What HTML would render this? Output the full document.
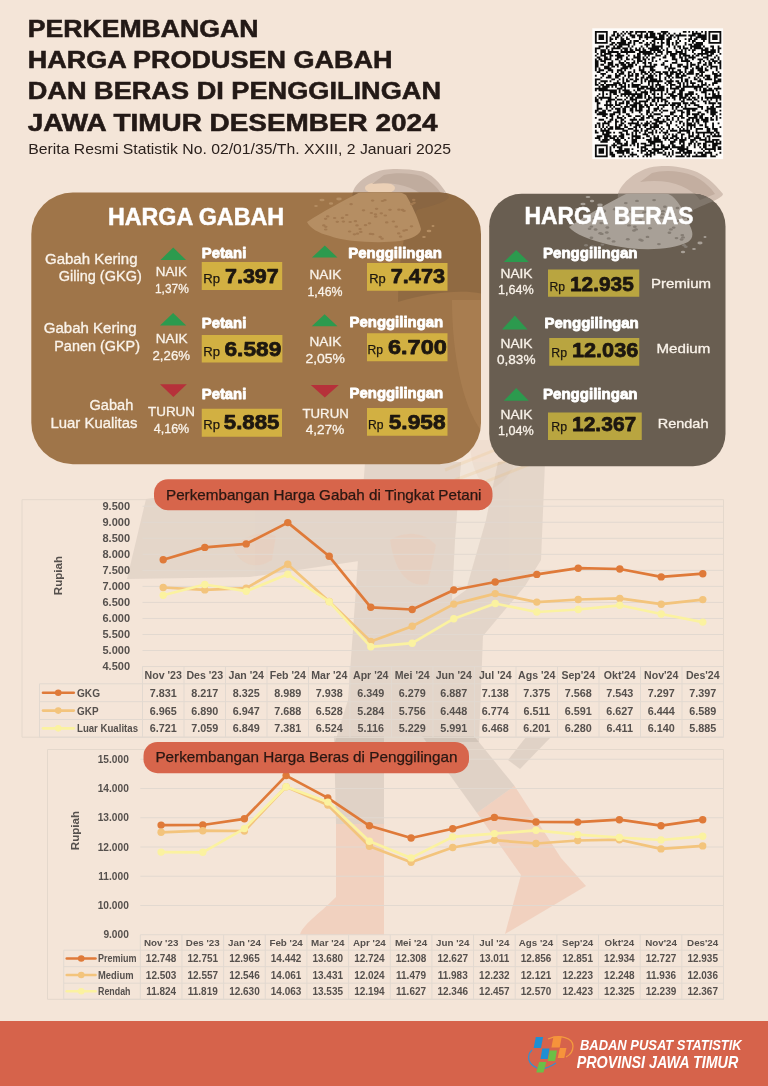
<!DOCTYPE html>
<html lang="id">
<head>
<meta charset="utf-8">
<title>Perkembangan Harga Produsen Gabah dan Beras di Penggilingan Jawa Timur Desember 2024</title>
<style>
html,body{margin:0;padding:0;background:#F4E5D8;}
body{width:768px;height:1086px;overflow:hidden;}
svg{display:block;font-family:"Liberation Sans",sans-serif;will-change:transform;}
svg text{white-space:pre;}
</style>
</head>
<body>
<svg width="768" height="1086" viewBox="0 0 768 1086">
<rect x="0" y="0" width="768" height="1086" fill="#F4E5D8"/>
<g opacity="0.15" fill="#8A7F77">
<polygon points="146,499 215,490 300,502 366,478 366,560 250,577 127,579"/>
<polygon points="365,462 545,462 541,560 525,586 483,636 479,742 335,742 348,700"/>
</g>
<g opacity="0.18" fill="#8A7F77">
<polygon points="334,736 384,736 384,824 336,824"/>
<polygon points="422,736 474,736 514.6,786 477,813"/>
<polygon points="526,737 551,737 520,769 508,760"/>
</g>
<g opacity="0.75" fill="#F6E9DD">
<polygon points="461,462 498,462 486,520 466,590 452,600 455,540"/>
</g>
<g opacity="0.40" fill="#EDB49C">
<path d="M336,824 H384 V935 H300 C302,925 318,915 336,897 Z"/>
<polygon points="477,813 514.6,786 561,858 586,886 505,934 521,875"/>
</g>
<g opacity="0.22" fill="#F1C3A8">
<path d="M233,548 C245,535 262,530 276,536 L272,560 C258,570 240,566 233,548 Z"/>
<path d="M390,540 C405,530 425,532 436,545 L428,584 C410,588 395,575 390,540 Z"/>
</g>
<g opacity="0.10" fill="#CDA78C">
<path d="M470,440 H520 C520,460 510,480 490,490 C475,480 470,460 470,440 Z"/>
</g>
<g opacity="0.16" stroke="#EFB35E" stroke-width="3" fill="none">
<path d="M445,470 L520,440 M455,480 L540,448 M470,488 L560,452"/>
</g>
<path d="M376,172 C383,168.5 402,167.5 423,171.5 C436,176 443,188 449,197 C446,203 430,206 417,210 L414,216 C400,200 380,192 353,198 C350,190 360,178 376,172 Z" fill="#CFBCAF"/>
<ellipse cx="380" cy="188" rx="15" ry="6" fill="#EBD0B6"/>
<path d="M645,169 C655,165 677,164 697,172 C710,178 718,188 723,194 C722,199 705,204 691,211 L688,216 C672,200 650,194 618,198 C616,190 628,176 645,169 Z" fill="#D3C0B3"/>
<path d="M652,173 C662,170 680,170 694,176 C704,181 711,188 715,194 L700,200 C690,186 668,178 640,182 Z" fill="#C3AEA0"/>
<path d="M384,175 C394,172.5 410,172.5 421,176 C431,181 438,188 442,195 L428,201 C418,188 398,181 372,184 Z" fill="#C0AC9E"/>
<text x="27.70" y="37.30" font-size="23.6" font-weight="700" fill="#231916" textLength="230.80" lengthAdjust="spacingAndGlyphs" stroke="#231916" stroke-width="0.55">PERKEMBANGAN</text>
<text x="27.70" y="68.30" font-size="23.6" font-weight="700" fill="#231916" textLength="364.80" lengthAdjust="spacingAndGlyphs" stroke="#231916" stroke-width="0.55">HARGA PRODUSEN GABAH</text>
<text x="27.70" y="99.30" font-size="23.6" font-weight="700" fill="#231916" textLength="413.30" lengthAdjust="spacingAndGlyphs" stroke="#231916" stroke-width="0.55">DAN BERAS DI PENGGILINGAN</text>
<text x="27.70" y="130.70" font-size="23.6" font-weight="700" fill="#231916" textLength="409.80" lengthAdjust="spacingAndGlyphs" stroke="#231916" stroke-width="0.55">JAWA TIMUR DESEMBER 2024</text>
<text x="28.30" y="154.00" font-size="13.9" font-weight="400" fill="#2b211d" textLength="422.70" lengthAdjust="spacingAndGlyphs">Berita Resmi Statistik No. 02/01/35/Th. XXIII, 2 Januari 2025</text>
<rect x="592.3" y="28.299999999999997" width="130.8" height="130.8" fill="#FEFCFA"/>
<path fill="#0B0B0B" d="M594.90 30.90h12.82v1.83h-12.82zM613.22 30.90h3.66v1.83h-3.66zM622.38 30.90h1.83v1.83h-1.83zM626.04 30.90h1.83v1.83h-1.83zM629.71 30.90h3.66v1.83h-3.66zM635.20 30.90h10.99v1.83h-10.99zM648.02 30.90h5.50v1.83h-5.50zM660.85 30.90h7.33v1.83h-7.33zM682.83 30.90h3.66v1.83h-3.66zM688.33 30.90h1.83v1.83h-1.83zM691.99 30.90h1.83v1.83h-1.83zM695.65 30.90h1.83v1.83h-1.83zM701.15 30.90h1.83v1.83h-1.83zM704.81 30.90h1.83v1.83h-1.83zM708.48 30.90h12.82v1.83h-12.82zM594.90 32.73h1.83v1.83h-1.83zM605.89 32.73h1.83v1.83h-1.83zM613.22 32.73h1.83v1.83h-1.83zM616.88 32.73h1.83v1.83h-1.83zM620.55 32.73h1.83v1.83h-1.83zM624.21 32.73h1.83v1.83h-1.83zM627.87 32.73h3.66v1.83h-3.66zM635.20 32.73h1.83v1.83h-1.83zM640.70 32.73h1.83v1.83h-1.83zM646.19 32.73h1.83v1.83h-1.83zM649.86 32.73h5.50v1.83h-5.50zM657.18 32.73h3.66v1.83h-3.66zM662.68 32.73h3.66v1.83h-3.66zM668.18 32.73h1.83v1.83h-1.83zM673.67 32.73h1.83v1.83h-1.83zM679.17 32.73h1.83v1.83h-1.83zM691.99 32.73h9.16v1.83h-9.16zM704.81 32.73h1.83v1.83h-1.83zM708.48 32.73h1.83v1.83h-1.83zM719.47 32.73h1.83v1.83h-1.83zM594.90 34.56h1.83v1.83h-1.83zM598.56 34.56h5.50v1.83h-5.50zM605.89 34.56h1.83v1.83h-1.83zM611.39 34.56h3.66v1.83h-3.66zM616.88 34.56h3.66v1.83h-3.66zM622.38 34.56h1.83v1.83h-1.83zM629.71 34.56h5.50v1.83h-5.50zM637.03 34.56h5.50v1.83h-5.50zM644.36 34.56h3.66v1.83h-3.66zM649.86 34.56h5.50v1.83h-5.50zM659.02 34.56h5.50v1.83h-5.50zM666.34 34.56h1.83v1.83h-1.83zM670.01 34.56h3.66v1.83h-3.66zM675.50 34.56h10.99v1.83h-10.99zM688.33 34.56h7.33v1.83h-7.33zM697.49 34.56h9.16v1.83h-9.16zM708.48 34.56h1.83v1.83h-1.83zM712.14 34.56h5.50v1.83h-5.50zM719.47 34.56h1.83v1.83h-1.83zM594.90 36.40h1.83v1.83h-1.83zM598.56 36.40h5.50v1.83h-5.50zM605.89 36.40h1.83v1.83h-1.83zM609.56 36.40h1.83v1.83h-1.83zM615.05 36.40h3.66v1.83h-3.66zM620.55 36.40h1.83v1.83h-1.83zM626.04 36.40h1.83v1.83h-1.83zM631.54 36.40h3.66v1.83h-3.66zM638.87 36.40h3.66v1.83h-3.66zM644.36 36.40h12.82v1.83h-12.82zM659.02 36.40h5.50v1.83h-5.50zM668.18 36.40h3.66v1.83h-3.66zM673.67 36.40h1.83v1.83h-1.83zM677.33 36.40h1.83v1.83h-1.83zM690.16 36.40h1.83v1.83h-1.83zM695.65 36.40h10.99v1.83h-10.99zM708.48 36.40h1.83v1.83h-1.83zM712.14 36.40h5.50v1.83h-5.50zM719.47 36.40h1.83v1.83h-1.83zM594.90 38.23h1.83v1.83h-1.83zM598.56 38.23h5.50v1.83h-5.50zM605.89 38.23h1.83v1.83h-1.83zM609.56 38.23h3.66v1.83h-3.66zM615.05 38.23h1.83v1.83h-1.83zM620.55 38.23h3.66v1.83h-3.66zM626.04 38.23h3.66v1.83h-3.66zM638.87 38.23h1.83v1.83h-1.83zM646.19 38.23h1.83v1.83h-1.83zM653.52 38.23h10.99v1.83h-10.99zM666.34 38.23h5.50v1.83h-5.50zM677.33 38.23h1.83v1.83h-1.83zM684.66 38.23h1.83v1.83h-1.83zM688.33 38.23h3.66v1.83h-3.66zM693.82 38.23h3.66v1.83h-3.66zM701.15 38.23h5.50v1.83h-5.50zM708.48 38.23h1.83v1.83h-1.83zM712.14 38.23h5.50v1.83h-5.50zM719.47 38.23h1.83v1.83h-1.83zM594.90 40.06h1.83v1.83h-1.83zM605.89 40.06h1.83v1.83h-1.83zM609.56 40.06h1.83v1.83h-1.83zM620.55 40.06h5.50v1.83h-5.50zM629.71 40.06h1.83v1.83h-1.83zM633.37 40.06h5.50v1.83h-5.50zM642.53 40.06h1.83v1.83h-1.83zM651.69 40.06h3.66v1.83h-3.66zM660.85 40.06h1.83v1.83h-1.83zM666.34 40.06h3.66v1.83h-3.66zM675.50 40.06h1.83v1.83h-1.83zM679.17 40.06h1.83v1.83h-1.83zM688.33 40.06h1.83v1.83h-1.83zM691.99 40.06h3.66v1.83h-3.66zM702.98 40.06h1.83v1.83h-1.83zM708.48 40.06h1.83v1.83h-1.83zM719.47 40.06h1.83v1.83h-1.83zM594.90 41.89h12.82v1.83h-12.82zM611.39 41.89h3.66v1.83h-3.66zM616.88 41.89h9.16v1.83h-9.16zM627.87 41.89h3.66v1.83h-3.66zM633.37 41.89h1.83v1.83h-1.83zM638.87 41.89h3.66v1.83h-3.66zM646.19 41.89h1.83v1.83h-1.83zM649.86 41.89h1.83v1.83h-1.83zM653.52 41.89h1.83v1.83h-1.83zM657.18 41.89h1.83v1.83h-1.83zM660.85 41.89h3.66v1.83h-3.66zM666.34 41.89h3.66v1.83h-3.66zM671.84 41.89h1.83v1.83h-1.83zM675.50 41.89h3.66v1.83h-3.66zM684.66 41.89h1.83v1.83h-1.83zM691.99 41.89h1.83v1.83h-1.83zM695.65 41.89h7.33v1.83h-7.33zM708.48 41.89h12.82v1.83h-12.82zM609.56 43.72h3.66v1.83h-3.66zM615.05 43.72h1.83v1.83h-1.83zM618.71 43.72h10.99v1.83h-10.99zM633.37 43.72h1.83v1.83h-1.83zM644.36 43.72h5.50v1.83h-5.50zM651.69 43.72h3.66v1.83h-3.66zM660.85 43.72h1.83v1.83h-1.83zM666.34 43.72h3.66v1.83h-3.66zM671.84 43.72h1.83v1.83h-1.83zM675.50 43.72h1.83v1.83h-1.83zM684.66 43.72h1.83v1.83h-1.83zM688.33 43.72h3.66v1.83h-3.66zM693.82 43.72h9.16v1.83h-9.16zM598.56 45.56h5.50v1.83h-5.50zM605.89 45.56h3.66v1.83h-3.66zM613.22 45.56h1.83v1.83h-1.83zM616.88 45.56h5.50v1.83h-5.50zM627.87 45.56h1.83v1.83h-1.83zM631.54 45.56h1.83v1.83h-1.83zM640.70 45.56h1.83v1.83h-1.83zM646.19 45.56h1.83v1.83h-1.83zM651.69 45.56h10.99v1.83h-10.99zM668.18 45.56h1.83v1.83h-1.83zM673.67 45.56h1.83v1.83h-1.83zM677.33 45.56h3.66v1.83h-3.66zM682.83 45.56h1.83v1.83h-1.83zM690.16 45.56h10.99v1.83h-10.99zM702.98 45.56h1.83v1.83h-1.83zM710.31 45.56h3.66v1.83h-3.66zM717.64 45.56h1.83v1.83h-1.83zM594.90 47.39h5.50v1.83h-5.50zM605.89 47.39h1.83v1.83h-1.83zM611.39 47.39h9.16v1.83h-9.16zM622.38 47.39h5.50v1.83h-5.50zM629.71 47.39h1.83v1.83h-1.83zM635.20 47.39h1.83v1.83h-1.83zM638.87 47.39h1.83v1.83h-1.83zM642.53 47.39h1.83v1.83h-1.83zM648.02 47.39h10.99v1.83h-10.99zM660.85 47.39h1.83v1.83h-1.83zM666.34 47.39h1.83v1.83h-1.83zM673.67 47.39h1.83v1.83h-1.83zM679.17 47.39h1.83v1.83h-1.83zM682.83 47.39h5.50v1.83h-5.50zM690.16 47.39h1.83v1.83h-1.83zM693.82 47.39h9.16v1.83h-9.16zM704.81 47.39h3.66v1.83h-3.66zM712.14 47.39h1.83v1.83h-1.83zM717.64 47.39h3.66v1.83h-3.66zM594.90 49.22h1.83v1.83h-1.83zM600.40 49.22h5.50v1.83h-5.50zM607.72 49.22h1.83v1.83h-1.83zM611.39 49.22h1.83v1.83h-1.83zM620.55 49.22h1.83v1.83h-1.83zM624.21 49.22h3.66v1.83h-3.66zM629.71 49.22h3.66v1.83h-3.66zM635.20 49.22h5.50v1.83h-5.50zM642.53 49.22h3.66v1.83h-3.66zM649.86 49.22h10.99v1.83h-10.99zM662.68 49.22h1.83v1.83h-1.83zM666.34 49.22h1.83v1.83h-1.83zM675.50 49.22h1.83v1.83h-1.83zM681.00 49.22h1.83v1.83h-1.83zM684.66 49.22h1.83v1.83h-1.83zM688.33 49.22h1.83v1.83h-1.83zM691.99 49.22h3.66v1.83h-3.66zM701.15 49.22h7.33v1.83h-7.33zM710.31 49.22h5.50v1.83h-5.50zM717.64 49.22h1.83v1.83h-1.83zM594.90 51.05h1.83v1.83h-1.83zM600.40 51.05h5.50v1.83h-5.50zM607.72 51.05h10.99v1.83h-10.99zM620.55 51.05h14.66v1.83h-14.66zM638.87 51.05h12.82v1.83h-12.82zM653.52 51.05h1.83v1.83h-1.83zM657.18 51.05h5.50v1.83h-5.50zM666.34 51.05h5.50v1.83h-5.50zM675.50 51.05h7.33v1.83h-7.33zM684.66 51.05h1.83v1.83h-1.83zM691.99 51.05h1.83v1.83h-1.83zM701.15 51.05h1.83v1.83h-1.83zM704.81 51.05h10.99v1.83h-10.99zM717.64 51.05h1.83v1.83h-1.83zM596.73 52.88h1.83v1.83h-1.83zM600.40 52.88h1.83v1.83h-1.83zM604.06 52.88h7.33v1.83h-7.33zM616.88 52.88h3.66v1.83h-3.66zM626.04 52.88h1.83v1.83h-1.83zM637.03 52.88h3.66v1.83h-3.66zM642.53 52.88h10.99v1.83h-10.99zM655.35 52.88h1.83v1.83h-1.83zM660.85 52.88h1.83v1.83h-1.83zM666.34 52.88h1.83v1.83h-1.83zM670.01 52.88h7.33v1.83h-7.33zM679.17 52.88h7.33v1.83h-7.33zM693.82 52.88h1.83v1.83h-1.83zM697.49 52.88h10.99v1.83h-10.99zM710.31 52.88h3.66v1.83h-3.66zM719.47 52.88h1.83v1.83h-1.83zM594.90 54.71h1.83v1.83h-1.83zM600.40 54.71h5.50v1.83h-5.50zM609.56 54.71h3.66v1.83h-3.66zM615.05 54.71h9.16v1.83h-9.16zM627.87 54.71h1.83v1.83h-1.83zM633.37 54.71h1.83v1.83h-1.83zM637.03 54.71h3.66v1.83h-3.66zM644.36 54.71h1.83v1.83h-1.83zM648.02 54.71h1.83v1.83h-1.83zM655.35 54.71h5.50v1.83h-5.50zM664.51 54.71h1.83v1.83h-1.83zM670.01 54.71h5.50v1.83h-5.50zM679.17 54.71h1.83v1.83h-1.83zM682.83 54.71h7.33v1.83h-7.33zM691.99 54.71h1.83v1.83h-1.83zM695.65 54.71h3.66v1.83h-3.66zM701.15 54.71h1.83v1.83h-1.83zM706.64 54.71h5.50v1.83h-5.50zM715.80 54.71h1.83v1.83h-1.83zM596.73 56.55h3.66v1.83h-3.66zM604.06 56.55h3.66v1.83h-3.66zM609.56 56.55h1.83v1.83h-1.83zM616.88 56.55h5.50v1.83h-5.50zM626.04 56.55h1.83v1.83h-1.83zM633.37 56.55h7.33v1.83h-7.33zM642.53 56.55h1.83v1.83h-1.83zM646.19 56.55h1.83v1.83h-1.83zM651.69 56.55h3.66v1.83h-3.66zM662.68 56.55h3.66v1.83h-3.66zM671.84 56.55h3.66v1.83h-3.66zM679.17 56.55h3.66v1.83h-3.66zM684.66 56.55h1.83v1.83h-1.83zM688.33 56.55h7.33v1.83h-7.33zM702.98 56.55h5.50v1.83h-5.50zM713.97 56.55h1.83v1.83h-1.83zM717.64 56.55h1.83v1.83h-1.83zM594.90 58.38h1.83v1.83h-1.83zM598.56 58.38h3.66v1.83h-3.66zM604.06 58.38h7.33v1.83h-7.33zM615.05 58.38h3.66v1.83h-3.66zM620.55 58.38h1.83v1.83h-1.83zM626.04 58.38h3.66v1.83h-3.66zM631.54 58.38h1.83v1.83h-1.83zM637.03 58.38h3.66v1.83h-3.66zM642.53 58.38h3.66v1.83h-3.66zM648.02 58.38h1.83v1.83h-1.83zM651.69 58.38h1.83v1.83h-1.83zM659.02 58.38h1.83v1.83h-1.83zM671.84 58.38h5.50v1.83h-5.50zM681.00 58.38h1.83v1.83h-1.83zM684.66 58.38h3.66v1.83h-3.66zM691.99 58.38h1.83v1.83h-1.83zM697.49 58.38h5.50v1.83h-5.50zM706.64 58.38h1.83v1.83h-1.83zM710.31 58.38h3.66v1.83h-3.66zM717.64 58.38h1.83v1.83h-1.83zM594.90 60.21h3.66v1.83h-3.66zM600.40 60.21h5.50v1.83h-5.50zM611.39 60.21h1.83v1.83h-1.83zM618.71 60.21h1.83v1.83h-1.83zM624.21 60.21h1.83v1.83h-1.83zM633.37 60.21h1.83v1.83h-1.83zM637.03 60.21h5.50v1.83h-5.50zM644.36 60.21h1.83v1.83h-1.83zM651.69 60.21h1.83v1.83h-1.83zM655.35 60.21h1.83v1.83h-1.83zM664.51 60.21h3.66v1.83h-3.66zM675.50 60.21h1.83v1.83h-1.83zM681.00 60.21h9.16v1.83h-9.16zM699.32 60.21h1.83v1.83h-1.83zM702.98 60.21h1.83v1.83h-1.83zM708.48 60.21h1.83v1.83h-1.83zM712.14 60.21h5.50v1.83h-5.50zM719.47 60.21h1.83v1.83h-1.83zM594.90 62.04h3.66v1.83h-3.66zM604.06 62.04h1.83v1.83h-1.83zM607.72 62.04h5.50v1.83h-5.50zM618.71 62.04h5.50v1.83h-5.50zM626.04 62.04h3.66v1.83h-3.66zM631.54 62.04h3.66v1.83h-3.66zM637.03 62.04h1.83v1.83h-1.83zM642.53 62.04h3.66v1.83h-3.66zM648.02 62.04h3.66v1.83h-3.66zM662.68 62.04h1.83v1.83h-1.83zM671.84 62.04h5.50v1.83h-5.50zM686.49 62.04h1.83v1.83h-1.83zM690.16 62.04h1.83v1.83h-1.83zM697.49 62.04h3.66v1.83h-3.66zM704.81 62.04h1.83v1.83h-1.83zM708.48 62.04h3.66v1.83h-3.66zM713.97 62.04h1.83v1.83h-1.83zM717.64 62.04h3.66v1.83h-3.66zM594.90 63.87h3.66v1.83h-3.66zM600.40 63.87h3.66v1.83h-3.66zM607.72 63.87h5.50v1.83h-5.50zM615.05 63.87h3.66v1.83h-3.66zM620.55 63.87h5.50v1.83h-5.50zM627.87 63.87h5.50v1.83h-5.50zM635.20 63.87h1.83v1.83h-1.83zM644.36 63.87h1.83v1.83h-1.83zM649.86 63.87h1.83v1.83h-1.83zM653.52 63.87h3.66v1.83h-3.66zM660.85 63.87h3.66v1.83h-3.66zM670.01 63.87h1.83v1.83h-1.83zM677.33 63.87h5.50v1.83h-5.50zM686.49 63.87h1.83v1.83h-1.83zM690.16 63.87h5.50v1.83h-5.50zM697.49 63.87h1.83v1.83h-1.83zM702.98 63.87h3.66v1.83h-3.66zM708.48 63.87h3.66v1.83h-3.66zM719.47 63.87h1.83v1.83h-1.83zM594.90 65.71h3.66v1.83h-3.66zM604.06 65.71h5.50v1.83h-5.50zM611.39 65.71h3.66v1.83h-3.66zM616.88 65.71h1.83v1.83h-1.83zM622.38 65.71h10.99v1.83h-10.99zM638.87 65.71h1.83v1.83h-1.83zM642.53 65.71h12.82v1.83h-12.82zM664.51 65.71h3.66v1.83h-3.66zM670.01 65.71h1.83v1.83h-1.83zM677.33 65.71h3.66v1.83h-3.66zM682.83 65.71h5.50v1.83h-5.50zM690.16 65.71h1.83v1.83h-1.83zM695.65 65.71h3.66v1.83h-3.66zM701.15 65.71h1.83v1.83h-1.83zM706.64 65.71h1.83v1.83h-1.83zM710.31 65.71h7.33v1.83h-7.33zM719.47 65.71h1.83v1.83h-1.83zM594.90 67.54h1.83v1.83h-1.83zM598.56 67.54h1.83v1.83h-1.83zM604.06 67.54h7.33v1.83h-7.33zM620.55 67.54h7.33v1.83h-7.33zM629.71 67.54h1.83v1.83h-1.83zM638.87 67.54h1.83v1.83h-1.83zM642.53 67.54h1.83v1.83h-1.83zM649.86 67.54h3.66v1.83h-3.66zM664.51 67.54h1.83v1.83h-1.83zM668.18 67.54h7.33v1.83h-7.33zM684.66 67.54h3.66v1.83h-3.66zM691.99 67.54h1.83v1.83h-1.83zM695.65 67.54h7.33v1.83h-7.33zM704.81 67.54h1.83v1.83h-1.83zM710.31 67.54h1.83v1.83h-1.83zM715.80 67.54h1.83v1.83h-1.83zM719.47 67.54h1.83v1.83h-1.83zM594.90 69.37h1.83v1.83h-1.83zM598.56 69.37h5.50v1.83h-5.50zM607.72 69.37h5.50v1.83h-5.50zM616.88 69.37h5.50v1.83h-5.50zM624.21 69.37h1.83v1.83h-1.83zM633.37 69.37h1.83v1.83h-1.83zM638.87 69.37h5.50v1.83h-5.50zM649.86 69.37h5.50v1.83h-5.50zM668.18 69.37h1.83v1.83h-1.83zM671.84 69.37h1.83v1.83h-1.83zM677.33 69.37h3.66v1.83h-3.66zM684.66 69.37h1.83v1.83h-1.83zM690.16 69.37h3.66v1.83h-3.66zM697.49 69.37h5.50v1.83h-5.50zM704.81 69.37h3.66v1.83h-3.66zM715.80 69.37h1.83v1.83h-1.83zM596.73 71.20h3.66v1.83h-3.66zM605.89 71.20h1.83v1.83h-1.83zM611.39 71.20h1.83v1.83h-1.83zM616.88 71.20h1.83v1.83h-1.83zM620.55 71.20h3.66v1.83h-3.66zM627.87 71.20h3.66v1.83h-3.66zM633.37 71.20h1.83v1.83h-1.83zM640.70 71.20h5.50v1.83h-5.50zM648.02 71.20h1.83v1.83h-1.83zM651.69 71.20h1.83v1.83h-1.83zM655.35 71.20h5.50v1.83h-5.50zM662.68 71.20h5.50v1.83h-5.50zM670.01 71.20h7.33v1.83h-7.33zM679.17 71.20h3.66v1.83h-3.66zM684.66 71.20h1.83v1.83h-1.83zM688.33 71.20h5.50v1.83h-5.50zM699.32 71.20h5.50v1.83h-5.50zM712.14 71.20h1.83v1.83h-1.83zM717.64 71.20h1.83v1.83h-1.83zM600.40 73.03h5.50v1.83h-5.50zM615.05 73.03h1.83v1.83h-1.83zM618.71 73.03h5.50v1.83h-5.50zM627.87 73.03h1.83v1.83h-1.83zM631.54 73.03h1.83v1.83h-1.83zM635.20 73.03h3.66v1.83h-3.66zM640.70 73.03h1.83v1.83h-1.83zM644.36 73.03h3.66v1.83h-3.66zM649.86 73.03h1.83v1.83h-1.83zM653.52 73.03h1.83v1.83h-1.83zM659.02 73.03h3.66v1.83h-3.66zM664.51 73.03h3.66v1.83h-3.66zM670.01 73.03h3.66v1.83h-3.66zM675.50 73.03h5.50v1.83h-5.50zM682.83 73.03h1.83v1.83h-1.83zM686.49 73.03h7.33v1.83h-7.33zM695.65 73.03h3.66v1.83h-3.66zM701.15 73.03h1.83v1.83h-1.83zM712.14 73.03h5.50v1.83h-5.50zM719.47 73.03h1.83v1.83h-1.83zM594.90 74.87h1.83v1.83h-1.83zM602.23 74.87h1.83v1.83h-1.83zM607.72 74.87h3.66v1.83h-3.66zM615.05 74.87h5.50v1.83h-5.50zM624.21 74.87h1.83v1.83h-1.83zM627.87 74.87h5.50v1.83h-5.50zM635.20 74.87h3.66v1.83h-3.66zM642.53 74.87h1.83v1.83h-1.83zM648.02 74.87h5.50v1.83h-5.50zM655.35 74.87h1.83v1.83h-1.83zM659.02 74.87h1.83v1.83h-1.83zM666.34 74.87h5.50v1.83h-5.50zM675.50 74.87h3.66v1.83h-3.66zM681.00 74.87h5.50v1.83h-5.50zM695.65 74.87h1.83v1.83h-1.83zM699.32 74.87h3.66v1.83h-3.66zM704.81 74.87h5.50v1.83h-5.50zM713.97 74.87h7.33v1.83h-7.33zM600.40 76.70h1.83v1.83h-1.83zM605.89 76.70h5.50v1.83h-5.50zM615.05 76.70h3.66v1.83h-3.66zM622.38 76.70h1.83v1.83h-1.83zM627.87 76.70h1.83v1.83h-1.83zM635.20 76.70h1.83v1.83h-1.83zM640.70 76.70h3.66v1.83h-3.66zM646.19 76.70h7.33v1.83h-7.33zM659.02 76.70h1.83v1.83h-1.83zM664.51 76.70h1.83v1.83h-1.83zM668.18 76.70h1.83v1.83h-1.83zM671.84 76.70h1.83v1.83h-1.83zM675.50 76.70h7.33v1.83h-7.33zM688.33 76.70h1.83v1.83h-1.83zM693.82 76.70h1.83v1.83h-1.83zM697.49 76.70h1.83v1.83h-1.83zM702.98 76.70h1.83v1.83h-1.83zM706.64 76.70h3.66v1.83h-3.66zM713.97 76.70h3.66v1.83h-3.66zM594.90 78.53h5.50v1.83h-5.50zM611.39 78.53h3.66v1.83h-3.66zM618.71 78.53h1.83v1.83h-1.83zM622.38 78.53h1.83v1.83h-1.83zM626.04 78.53h1.83v1.83h-1.83zM629.71 78.53h3.66v1.83h-3.66zM635.20 78.53h3.66v1.83h-3.66zM640.70 78.53h1.83v1.83h-1.83zM644.36 78.53h3.66v1.83h-3.66zM649.86 78.53h7.33v1.83h-7.33zM659.02 78.53h1.83v1.83h-1.83zM664.51 78.53h1.83v1.83h-1.83zM670.01 78.53h1.83v1.83h-1.83zM681.00 78.53h1.83v1.83h-1.83zM684.66 78.53h3.66v1.83h-3.66zM693.82 78.53h3.66v1.83h-3.66zM699.32 78.53h1.83v1.83h-1.83zM704.81 78.53h7.33v1.83h-7.33zM713.97 78.53h1.83v1.83h-1.83zM717.64 78.53h3.66v1.83h-3.66zM594.90 80.36h1.83v1.83h-1.83zM600.40 80.36h7.33v1.83h-7.33zM609.56 80.36h1.83v1.83h-1.83zM616.88 80.36h1.83v1.83h-1.83zM622.38 80.36h1.83v1.83h-1.83zM626.04 80.36h3.66v1.83h-3.66zM633.37 80.36h3.66v1.83h-3.66zM640.70 80.36h1.83v1.83h-1.83zM644.36 80.36h1.83v1.83h-1.83zM648.02 80.36h14.66v1.83h-14.66zM666.34 80.36h7.33v1.83h-7.33zM675.50 80.36h3.66v1.83h-3.66zM681.00 80.36h1.83v1.83h-1.83zM684.66 80.36h3.66v1.83h-3.66zM690.16 80.36h1.83v1.83h-1.83zM697.49 80.36h5.50v1.83h-5.50zM713.97 80.36h7.33v1.83h-7.33zM594.90 82.19h1.83v1.83h-1.83zM598.56 82.19h1.83v1.83h-1.83zM604.06 82.19h1.83v1.83h-1.83zM613.22 82.19h7.33v1.83h-7.33zM622.38 82.19h3.66v1.83h-3.66zM631.54 82.19h1.83v1.83h-1.83zM640.70 82.19h1.83v1.83h-1.83zM648.02 82.19h1.83v1.83h-1.83zM651.69 82.19h1.83v1.83h-1.83zM657.18 82.19h1.83v1.83h-1.83zM664.51 82.19h1.83v1.83h-1.83zM668.18 82.19h3.66v1.83h-3.66zM677.33 82.19h3.66v1.83h-3.66zM682.83 82.19h1.83v1.83h-1.83zM686.49 82.19h1.83v1.83h-1.83zM690.16 82.19h5.50v1.83h-5.50zM701.15 82.19h1.83v1.83h-1.83zM704.81 82.19h1.83v1.83h-1.83zM712.14 82.19h5.50v1.83h-5.50zM594.90 84.02h3.66v1.83h-3.66zM600.40 84.02h3.66v1.83h-3.66zM605.89 84.02h10.99v1.83h-10.99zM618.71 84.02h3.66v1.83h-3.66zM624.21 84.02h1.83v1.83h-1.83zM627.87 84.02h1.83v1.83h-1.83zM631.54 84.02h9.16v1.83h-9.16zM648.02 84.02h1.83v1.83h-1.83zM651.69 84.02h1.83v1.83h-1.83zM655.35 84.02h5.50v1.83h-5.50zM666.34 84.02h1.83v1.83h-1.83zM670.01 84.02h5.50v1.83h-5.50zM679.17 84.02h1.83v1.83h-1.83zM682.83 84.02h1.83v1.83h-1.83zM686.49 84.02h1.83v1.83h-1.83zM691.99 84.02h1.83v1.83h-1.83zM697.49 84.02h1.83v1.83h-1.83zM701.15 84.02h5.50v1.83h-5.50zM708.48 84.02h1.83v1.83h-1.83zM712.14 84.02h1.83v1.83h-1.83zM598.56 85.86h1.83v1.83h-1.83zM602.23 85.86h7.33v1.83h-7.33zM611.39 85.86h1.83v1.83h-1.83zM615.05 85.86h1.83v1.83h-1.83zM620.55 85.86h5.50v1.83h-5.50zM627.87 85.86h1.83v1.83h-1.83zM631.54 85.86h7.33v1.83h-7.33zM640.70 85.86h7.33v1.83h-7.33zM649.86 85.86h3.66v1.83h-3.66zM655.35 85.86h1.83v1.83h-1.83zM659.02 85.86h5.50v1.83h-5.50zM670.01 85.86h1.83v1.83h-1.83zM675.50 85.86h5.50v1.83h-5.50zM682.83 85.86h20.15v1.83h-20.15zM706.64 85.86h1.83v1.83h-1.83zM717.64 85.86h1.83v1.83h-1.83zM594.90 87.69h12.82v1.83h-12.82zM616.88 87.69h5.50v1.83h-5.50zM624.21 87.69h1.83v1.83h-1.83zM637.03 87.69h7.33v1.83h-7.33zM646.19 87.69h9.16v1.83h-9.16zM657.18 87.69h7.33v1.83h-7.33zM666.34 87.69h1.83v1.83h-1.83zM670.01 87.69h9.16v1.83h-9.16zM681.00 87.69h3.66v1.83h-3.66zM693.82 87.69h3.66v1.83h-3.66zM699.32 87.69h1.83v1.83h-1.83zM702.98 87.69h3.66v1.83h-3.66zM708.48 87.69h3.66v1.83h-3.66zM713.97 87.69h7.33v1.83h-7.33zM594.90 89.52h1.83v1.83h-1.83zM598.56 89.52h18.32v1.83h-18.32zM618.71 89.52h1.83v1.83h-1.83zM622.38 89.52h7.33v1.83h-7.33zM633.37 89.52h1.83v1.83h-1.83zM637.03 89.52h3.66v1.83h-3.66zM644.36 89.52h1.83v1.83h-1.83zM649.86 89.52h14.66v1.83h-14.66zM666.34 89.52h1.83v1.83h-1.83zM673.67 89.52h1.83v1.83h-1.83zM679.17 89.52h5.50v1.83h-5.50zM695.65 89.52h1.83v1.83h-1.83zM699.32 89.52h1.83v1.83h-1.83zM702.98 89.52h10.99v1.83h-10.99zM715.80 89.52h1.83v1.83h-1.83zM602.23 91.35h1.83v1.83h-1.83zM609.56 91.35h7.33v1.83h-7.33zM618.71 91.35h1.83v1.83h-1.83zM624.21 91.35h7.33v1.83h-7.33zM635.20 91.35h1.83v1.83h-1.83zM640.70 91.35h7.33v1.83h-7.33zM649.86 91.35h1.83v1.83h-1.83zM653.52 91.35h1.83v1.83h-1.83zM660.85 91.35h1.83v1.83h-1.83zM666.34 91.35h1.83v1.83h-1.83zM671.84 91.35h3.66v1.83h-3.66zM679.17 91.35h3.66v1.83h-3.66zM688.33 91.35h5.50v1.83h-5.50zM701.15 91.35h5.50v1.83h-5.50zM712.14 91.35h1.83v1.83h-1.83zM717.64 91.35h1.83v1.83h-1.83zM598.56 93.18h1.83v1.83h-1.83zM602.23 93.18h1.83v1.83h-1.83zM605.89 93.18h1.83v1.83h-1.83zM609.56 93.18h1.83v1.83h-1.83zM613.22 93.18h3.66v1.83h-3.66zM620.55 93.18h21.98v1.83h-21.98zM644.36 93.18h3.66v1.83h-3.66zM651.69 93.18h3.66v1.83h-3.66zM657.18 93.18h1.83v1.83h-1.83zM660.85 93.18h1.83v1.83h-1.83zM664.51 93.18h1.83v1.83h-1.83zM668.18 93.18h5.50v1.83h-5.50zM677.33 93.18h5.50v1.83h-5.50zM684.66 93.18h9.16v1.83h-9.16zM695.65 93.18h1.83v1.83h-1.83zM704.81 93.18h1.83v1.83h-1.83zM708.48 93.18h1.83v1.83h-1.83zM712.14 93.18h3.66v1.83h-3.66zM717.64 93.18h1.83v1.83h-1.83zM596.73 95.02h1.83v1.83h-1.83zM602.23 95.02h1.83v1.83h-1.83zM609.56 95.02h1.83v1.83h-1.83zM616.88 95.02h1.83v1.83h-1.83zM620.55 95.02h1.83v1.83h-1.83zM624.21 95.02h1.83v1.83h-1.83zM627.87 95.02h1.83v1.83h-1.83zM631.54 95.02h3.66v1.83h-3.66zM637.03 95.02h5.50v1.83h-5.50zM644.36 95.02h1.83v1.83h-1.83zM648.02 95.02h1.83v1.83h-1.83zM653.52 95.02h1.83v1.83h-1.83zM660.85 95.02h1.83v1.83h-1.83zM670.01 95.02h7.33v1.83h-7.33zM679.17 95.02h3.66v1.83h-3.66zM684.66 95.02h3.66v1.83h-3.66zM690.16 95.02h1.83v1.83h-1.83zM697.49 95.02h1.83v1.83h-1.83zM704.81 95.02h1.83v1.83h-1.83zM712.14 95.02h9.16v1.83h-9.16zM594.90 96.85h1.83v1.83h-1.83zM598.56 96.85h12.82v1.83h-12.82zM615.05 96.85h1.83v1.83h-1.83zM626.04 96.85h1.83v1.83h-1.83zM629.71 96.85h3.66v1.83h-3.66zM635.20 96.85h7.33v1.83h-7.33zM644.36 96.85h1.83v1.83h-1.83zM648.02 96.85h3.66v1.83h-3.66zM653.52 96.85h9.16v1.83h-9.16zM666.34 96.85h3.66v1.83h-3.66zM671.84 96.85h3.66v1.83h-3.66zM679.17 96.85h7.33v1.83h-7.33zM688.33 96.85h1.83v1.83h-1.83zM691.99 96.85h3.66v1.83h-3.66zM697.49 96.85h1.83v1.83h-1.83zM701.15 96.85h1.83v1.83h-1.83zM704.81 96.85h16.49v1.83h-16.49zM594.90 98.68h3.66v1.83h-3.66zM600.40 98.68h1.83v1.83h-1.83zM607.72 98.68h7.33v1.83h-7.33zM616.88 98.68h5.50v1.83h-5.50zM624.21 98.68h1.83v1.83h-1.83zM629.71 98.68h7.33v1.83h-7.33zM646.19 98.68h3.66v1.83h-3.66zM651.69 98.68h3.66v1.83h-3.66zM657.18 98.68h1.83v1.83h-1.83zM660.85 98.68h5.50v1.83h-5.50zM673.67 98.68h1.83v1.83h-1.83zM679.17 98.68h1.83v1.83h-1.83zM682.83 98.68h1.83v1.83h-1.83zM686.49 98.68h5.50v1.83h-5.50zM693.82 98.68h3.66v1.83h-3.66zM701.15 98.68h1.83v1.83h-1.83zM706.64 98.68h1.83v1.83h-1.83zM710.31 98.68h1.83v1.83h-1.83zM715.80 98.68h1.83v1.83h-1.83zM719.47 98.68h1.83v1.83h-1.83zM594.90 100.51h3.66v1.83h-3.66zM605.89 100.51h5.50v1.83h-5.50zM615.05 100.51h1.83v1.83h-1.83zM622.38 100.51h1.83v1.83h-1.83zM626.04 100.51h3.66v1.83h-3.66zM631.54 100.51h1.83v1.83h-1.83zM635.20 100.51h1.83v1.83h-1.83zM638.87 100.51h9.16v1.83h-9.16zM651.69 100.51h3.66v1.83h-3.66zM657.18 100.51h1.83v1.83h-1.83zM660.85 100.51h1.83v1.83h-1.83zM664.51 100.51h3.66v1.83h-3.66zM681.00 100.51h3.66v1.83h-3.66zM691.99 100.51h1.83v1.83h-1.83zM697.49 100.51h1.83v1.83h-1.83zM702.98 100.51h3.66v1.83h-3.66zM708.48 100.51h1.83v1.83h-1.83zM715.80 100.51h1.83v1.83h-1.83zM596.73 102.34h3.66v1.83h-3.66zM605.89 102.34h1.83v1.83h-1.83zM609.56 102.34h1.83v1.83h-1.83zM615.05 102.34h1.83v1.83h-1.83zM618.71 102.34h5.50v1.83h-5.50zM626.04 102.34h3.66v1.83h-3.66zM633.37 102.34h7.33v1.83h-7.33zM644.36 102.34h1.83v1.83h-1.83zM649.86 102.34h1.83v1.83h-1.83zM655.35 102.34h1.83v1.83h-1.83zM664.51 102.34h1.83v1.83h-1.83zM668.18 102.34h1.83v1.83h-1.83zM671.84 102.34h9.16v1.83h-9.16zM682.83 102.34h5.50v1.83h-5.50zM690.16 102.34h5.50v1.83h-5.50zM704.81 102.34h1.83v1.83h-1.83zM708.48 102.34h7.33v1.83h-7.33zM717.64 102.34h3.66v1.83h-3.66zM596.73 104.18h1.83v1.83h-1.83zM604.06 104.18h9.16v1.83h-9.16zM615.05 104.18h5.50v1.83h-5.50zM626.04 104.18h1.83v1.83h-1.83zM629.71 104.18h7.33v1.83h-7.33zM638.87 104.18h3.66v1.83h-3.66zM644.36 104.18h3.66v1.83h-3.66zM649.86 104.18h3.66v1.83h-3.66zM655.35 104.18h1.83v1.83h-1.83zM659.02 104.18h9.16v1.83h-9.16zM670.01 104.18h5.50v1.83h-5.50zM677.33 104.18h3.66v1.83h-3.66zM684.66 104.18h1.83v1.83h-1.83zM688.33 104.18h1.83v1.83h-1.83zM693.82 104.18h5.50v1.83h-5.50zM712.14 104.18h1.83v1.83h-1.83zM719.47 104.18h1.83v1.83h-1.83zM596.73 106.01h1.83v1.83h-1.83zM605.89 106.01h1.83v1.83h-1.83zM609.56 106.01h1.83v1.83h-1.83zM613.22 106.01h1.83v1.83h-1.83zM620.55 106.01h1.83v1.83h-1.83zM624.21 106.01h5.50v1.83h-5.50zM631.54 106.01h5.50v1.83h-5.50zM638.87 106.01h5.50v1.83h-5.50zM646.19 106.01h3.66v1.83h-3.66zM657.18 106.01h1.83v1.83h-1.83zM662.68 106.01h1.83v1.83h-1.83zM671.84 106.01h1.83v1.83h-1.83zM675.50 106.01h3.66v1.83h-3.66zM681.00 106.01h1.83v1.83h-1.83zM684.66 106.01h1.83v1.83h-1.83zM697.49 106.01h5.50v1.83h-5.50zM706.64 106.01h1.83v1.83h-1.83zM710.31 106.01h3.66v1.83h-3.66zM715.80 106.01h5.50v1.83h-5.50zM596.73 107.84h5.50v1.83h-5.50zM605.89 107.84h1.83v1.83h-1.83zM611.39 107.84h1.83v1.83h-1.83zM615.05 107.84h5.50v1.83h-5.50zM622.38 107.84h3.66v1.83h-3.66zM629.71 107.84h3.66v1.83h-3.66zM635.20 107.84h1.83v1.83h-1.83zM638.87 107.84h3.66v1.83h-3.66zM648.02 107.84h1.83v1.83h-1.83zM653.52 107.84h5.50v1.83h-5.50zM660.85 107.84h1.83v1.83h-1.83zM671.84 107.84h1.83v1.83h-1.83zM675.50 107.84h1.83v1.83h-1.83zM682.83 107.84h14.66v1.83h-14.66zM701.15 107.84h1.83v1.83h-1.83zM706.64 107.84h9.16v1.83h-9.16zM594.90 109.67h3.66v1.83h-3.66zM602.23 109.67h3.66v1.83h-3.66zM607.72 109.67h3.66v1.83h-3.66zM616.88 109.67h3.66v1.83h-3.66zM622.38 109.67h3.66v1.83h-3.66zM629.71 109.67h3.66v1.83h-3.66zM635.20 109.67h7.33v1.83h-7.33zM646.19 109.67h3.66v1.83h-3.66zM653.52 109.67h3.66v1.83h-3.66zM659.02 109.67h1.83v1.83h-1.83zM662.68 109.67h5.50v1.83h-5.50zM673.67 109.67h1.83v1.83h-1.83zM677.33 109.67h5.50v1.83h-5.50zM686.49 109.67h3.66v1.83h-3.66zM691.99 109.67h3.66v1.83h-3.66zM704.81 109.67h3.66v1.83h-3.66zM710.31 109.67h5.50v1.83h-5.50zM719.47 109.67h1.83v1.83h-1.83zM594.90 111.50h1.83v1.83h-1.83zM598.56 111.50h7.33v1.83h-7.33zM613.22 111.50h7.33v1.83h-7.33zM622.38 111.50h3.66v1.83h-3.66zM631.54 111.50h1.83v1.83h-1.83zM638.87 111.50h1.83v1.83h-1.83zM646.19 111.50h3.66v1.83h-3.66zM651.69 111.50h1.83v1.83h-1.83zM660.85 111.50h1.83v1.83h-1.83zM670.01 111.50h5.50v1.83h-5.50zM681.00 111.50h3.66v1.83h-3.66zM686.49 111.50h3.66v1.83h-3.66zM697.49 111.50h3.66v1.83h-3.66zM706.64 111.50h1.83v1.83h-1.83zM710.31 111.50h7.33v1.83h-7.33zM596.73 113.33h10.99v1.83h-10.99zM609.56 113.33h5.50v1.83h-5.50zM618.71 113.33h1.83v1.83h-1.83zM626.04 113.33h3.66v1.83h-3.66zM640.70 113.33h1.83v1.83h-1.83zM646.19 113.33h1.83v1.83h-1.83zM649.86 113.33h1.83v1.83h-1.83zM653.52 113.33h7.33v1.83h-7.33zM670.01 113.33h3.66v1.83h-3.66zM681.00 113.33h1.83v1.83h-1.83zM686.49 113.33h3.66v1.83h-3.66zM691.99 113.33h7.33v1.83h-7.33zM701.15 113.33h3.66v1.83h-3.66zM710.31 113.33h5.50v1.83h-5.50zM719.47 113.33h1.83v1.83h-1.83zM602.23 115.17h3.66v1.83h-3.66zM609.56 115.17h3.66v1.83h-3.66zM616.88 115.17h1.83v1.83h-1.83zM622.38 115.17h1.83v1.83h-1.83zM627.87 115.17h3.66v1.83h-3.66zM635.20 115.17h5.50v1.83h-5.50zM642.53 115.17h1.83v1.83h-1.83zM648.02 115.17h5.50v1.83h-5.50zM660.85 115.17h1.83v1.83h-1.83zM664.51 115.17h5.50v1.83h-5.50zM673.67 115.17h3.66v1.83h-3.66zM679.17 115.17h3.66v1.83h-3.66zM686.49 115.17h1.83v1.83h-1.83zM693.82 115.17h3.66v1.83h-3.66zM699.32 115.17h3.66v1.83h-3.66zM712.14 115.17h1.83v1.83h-1.83zM715.80 115.17h1.83v1.83h-1.83zM594.90 117.00h1.83v1.83h-1.83zM605.89 117.00h1.83v1.83h-1.83zM611.39 117.00h1.83v1.83h-1.83zM616.88 117.00h5.50v1.83h-5.50zM624.21 117.00h1.83v1.83h-1.83zM633.37 117.00h1.83v1.83h-1.83zM640.70 117.00h3.66v1.83h-3.66zM646.19 117.00h3.66v1.83h-3.66zM651.69 117.00h1.83v1.83h-1.83zM657.18 117.00h3.66v1.83h-3.66zM666.34 117.00h1.83v1.83h-1.83zM671.84 117.00h1.83v1.83h-1.83zM677.33 117.00h1.83v1.83h-1.83zM681.00 117.00h3.66v1.83h-3.66zM688.33 117.00h9.16v1.83h-9.16zM699.32 117.00h3.66v1.83h-3.66zM704.81 117.00h3.66v1.83h-3.66zM710.31 117.00h1.83v1.83h-1.83zM715.80 117.00h1.83v1.83h-1.83zM719.47 117.00h1.83v1.83h-1.83zM598.56 118.83h5.50v1.83h-5.50zM609.56 118.83h3.66v1.83h-3.66zM615.05 118.83h1.83v1.83h-1.83zM620.55 118.83h3.66v1.83h-3.66zM629.71 118.83h7.33v1.83h-7.33zM638.87 118.83h5.50v1.83h-5.50zM653.52 118.83h5.50v1.83h-5.50zM662.68 118.83h1.83v1.83h-1.83zM666.34 118.83h3.66v1.83h-3.66zM671.84 118.83h1.83v1.83h-1.83zM677.33 118.83h1.83v1.83h-1.83zM686.49 118.83h3.66v1.83h-3.66zM691.99 118.83h1.83v1.83h-1.83zM695.65 118.83h3.66v1.83h-3.66zM701.15 118.83h7.33v1.83h-7.33zM710.31 118.83h3.66v1.83h-3.66zM715.80 118.83h1.83v1.83h-1.83zM604.06 120.66h1.83v1.83h-1.83zM607.72 120.66h3.66v1.83h-3.66zM615.05 120.66h3.66v1.83h-3.66zM620.55 120.66h1.83v1.83h-1.83zM624.21 120.66h1.83v1.83h-1.83zM631.54 120.66h1.83v1.83h-1.83zM637.03 120.66h1.83v1.83h-1.83zM646.19 120.66h1.83v1.83h-1.83zM649.86 120.66h1.83v1.83h-1.83zM655.35 120.66h10.99v1.83h-10.99zM670.01 120.66h1.83v1.83h-1.83zM675.50 120.66h1.83v1.83h-1.83zM679.17 120.66h3.66v1.83h-3.66zM686.49 120.66h1.83v1.83h-1.83zM691.99 120.66h1.83v1.83h-1.83zM695.65 120.66h3.66v1.83h-3.66zM702.98 120.66h5.50v1.83h-5.50zM596.73 122.49h3.66v1.83h-3.66zM602.23 122.49h7.33v1.83h-7.33zM615.05 122.49h1.83v1.83h-1.83zM620.55 122.49h3.66v1.83h-3.66zM627.87 122.49h10.99v1.83h-10.99zM640.70 122.49h1.83v1.83h-1.83zM644.36 122.49h5.50v1.83h-5.50zM651.69 122.49h5.50v1.83h-5.50zM659.02 122.49h3.66v1.83h-3.66zM666.34 122.49h1.83v1.83h-1.83zM670.01 122.49h1.83v1.83h-1.83zM679.17 122.49h1.83v1.83h-1.83zM682.83 122.49h1.83v1.83h-1.83zM686.49 122.49h5.50v1.83h-5.50zM693.82 122.49h1.83v1.83h-1.83zM697.49 122.49h1.83v1.83h-1.83zM704.81 122.49h1.83v1.83h-1.83zM712.14 122.49h1.83v1.83h-1.83zM717.64 122.49h1.83v1.83h-1.83zM594.90 124.33h1.83v1.83h-1.83zM598.56 124.33h1.83v1.83h-1.83zM602.23 124.33h1.83v1.83h-1.83zM607.72 124.33h1.83v1.83h-1.83zM615.05 124.33h1.83v1.83h-1.83zM618.71 124.33h3.66v1.83h-3.66zM624.21 124.33h1.83v1.83h-1.83zM629.71 124.33h1.83v1.83h-1.83zM635.20 124.33h5.50v1.83h-5.50zM642.53 124.33h5.50v1.83h-5.50zM649.86 124.33h1.83v1.83h-1.83zM653.52 124.33h5.50v1.83h-5.50zM666.34 124.33h3.66v1.83h-3.66zM675.50 124.33h1.83v1.83h-1.83zM682.83 124.33h1.83v1.83h-1.83zM686.49 124.33h9.16v1.83h-9.16zM699.32 124.33h3.66v1.83h-3.66zM704.81 124.33h1.83v1.83h-1.83zM712.14 124.33h1.83v1.83h-1.83zM594.90 126.16h1.83v1.83h-1.83zM598.56 126.16h1.83v1.83h-1.83zM602.23 126.16h1.83v1.83h-1.83zM605.89 126.16h1.83v1.83h-1.83zM609.56 126.16h3.66v1.83h-3.66zM615.05 126.16h5.50v1.83h-5.50zM624.21 126.16h3.66v1.83h-3.66zM633.37 126.16h3.66v1.83h-3.66zM638.87 126.16h1.83v1.83h-1.83zM644.36 126.16h1.83v1.83h-1.83zM649.86 126.16h9.16v1.83h-9.16zM660.85 126.16h1.83v1.83h-1.83zM668.18 126.16h1.83v1.83h-1.83zM677.33 126.16h1.83v1.83h-1.83zM681.00 126.16h1.83v1.83h-1.83zM686.49 126.16h1.83v1.83h-1.83zM690.16 126.16h1.83v1.83h-1.83zM693.82 126.16h1.83v1.83h-1.83zM704.81 126.16h3.66v1.83h-3.66zM712.14 126.16h1.83v1.83h-1.83zM719.47 126.16h1.83v1.83h-1.83zM600.40 127.99h1.83v1.83h-1.83zM604.06 127.99h1.83v1.83h-1.83zM607.72 127.99h5.50v1.83h-5.50zM615.05 127.99h9.16v1.83h-9.16zM627.87 127.99h5.50v1.83h-5.50zM635.20 127.99h1.83v1.83h-1.83zM640.70 127.99h1.83v1.83h-1.83zM646.19 127.99h5.50v1.83h-5.50zM653.52 127.99h1.83v1.83h-1.83zM659.02 127.99h1.83v1.83h-1.83zM662.68 127.99h1.83v1.83h-1.83zM668.18 127.99h1.83v1.83h-1.83zM671.84 127.99h1.83v1.83h-1.83zM679.17 127.99h1.83v1.83h-1.83zM682.83 127.99h1.83v1.83h-1.83zM686.49 127.99h1.83v1.83h-1.83zM690.16 127.99h1.83v1.83h-1.83zM695.65 127.99h7.33v1.83h-7.33zM706.64 127.99h3.66v1.83h-3.66zM712.14 127.99h5.50v1.83h-5.50zM594.90 129.82h1.83v1.83h-1.83zM600.40 129.82h9.16v1.83h-9.16zM622.38 129.82h5.50v1.83h-5.50zM633.37 129.82h5.50v1.83h-5.50zM640.70 129.82h1.83v1.83h-1.83zM644.36 129.82h3.66v1.83h-3.66zM651.69 129.82h1.83v1.83h-1.83zM655.35 129.82h1.83v1.83h-1.83zM660.85 129.82h1.83v1.83h-1.83zM666.34 129.82h1.83v1.83h-1.83zM670.01 129.82h7.33v1.83h-7.33zM679.17 129.82h10.99v1.83h-10.99zM695.65 129.82h1.83v1.83h-1.83zM706.64 129.82h3.66v1.83h-3.66zM713.97 129.82h3.66v1.83h-3.66zM594.90 131.65h3.66v1.83h-3.66zM602.23 131.65h1.83v1.83h-1.83zM605.89 131.65h5.50v1.83h-5.50zM613.22 131.65h1.83v1.83h-1.83zM618.71 131.65h3.66v1.83h-3.66zM626.04 131.65h1.83v1.83h-1.83zM631.54 131.65h1.83v1.83h-1.83zM635.20 131.65h1.83v1.83h-1.83zM638.87 131.65h1.83v1.83h-1.83zM644.36 131.65h1.83v1.83h-1.83zM648.02 131.65h5.50v1.83h-5.50zM655.35 131.65h1.83v1.83h-1.83zM659.02 131.65h1.83v1.83h-1.83zM662.68 131.65h5.50v1.83h-5.50zM677.33 131.65h3.66v1.83h-3.66zM686.49 131.65h3.66v1.83h-3.66zM691.99 131.65h1.83v1.83h-1.83zM695.65 131.65h18.32v1.83h-18.32zM715.80 131.65h3.66v1.83h-3.66zM602.23 133.49h7.33v1.83h-7.33zM620.55 133.49h3.66v1.83h-3.66zM626.04 133.49h3.66v1.83h-3.66zM631.54 133.49h1.83v1.83h-1.83zM635.20 133.49h1.83v1.83h-1.83zM642.53 133.49h5.50v1.83h-5.50zM651.69 133.49h1.83v1.83h-1.83zM664.51 133.49h1.83v1.83h-1.83zM668.18 133.49h1.83v1.83h-1.83zM671.84 133.49h1.83v1.83h-1.83zM675.50 133.49h1.83v1.83h-1.83zM681.00 133.49h3.66v1.83h-3.66zM688.33 133.49h1.83v1.83h-1.83zM691.99 133.49h1.83v1.83h-1.83zM697.49 133.49h1.83v1.83h-1.83zM702.98 133.49h1.83v1.83h-1.83zM710.31 133.49h1.83v1.83h-1.83zM713.97 133.49h1.83v1.83h-1.83zM717.64 133.49h1.83v1.83h-1.83zM596.73 135.32h5.50v1.83h-5.50zM604.06 135.32h7.33v1.83h-7.33zM613.22 135.32h3.66v1.83h-3.66zM618.71 135.32h5.50v1.83h-5.50zM631.54 135.32h9.16v1.83h-9.16zM646.19 135.32h3.66v1.83h-3.66zM653.52 135.32h1.83v1.83h-1.83zM657.18 135.32h1.83v1.83h-1.83zM662.68 135.32h1.83v1.83h-1.83zM666.34 135.32h1.83v1.83h-1.83zM671.84 135.32h5.50v1.83h-5.50zM681.00 135.32h1.83v1.83h-1.83zM688.33 135.32h5.50v1.83h-5.50zM695.65 135.32h3.66v1.83h-3.66zM702.98 135.32h1.83v1.83h-1.83zM706.64 135.32h3.66v1.83h-3.66zM712.14 135.32h9.16v1.83h-9.16zM594.90 137.15h5.50v1.83h-5.50zM604.06 137.15h3.66v1.83h-3.66zM609.56 137.15h5.50v1.83h-5.50zM616.88 137.15h1.83v1.83h-1.83zM620.55 137.15h3.66v1.83h-3.66zM627.87 137.15h1.83v1.83h-1.83zM631.54 137.15h1.83v1.83h-1.83zM635.20 137.15h5.50v1.83h-5.50zM642.53 137.15h1.83v1.83h-1.83zM649.86 137.15h1.83v1.83h-1.83zM653.52 137.15h5.50v1.83h-5.50zM662.68 137.15h5.50v1.83h-5.50zM670.01 137.15h3.66v1.83h-3.66zM675.50 137.15h3.66v1.83h-3.66zM681.00 137.15h1.83v1.83h-1.83zM684.66 137.15h1.83v1.83h-1.83zM688.33 137.15h1.83v1.83h-1.83zM693.82 137.15h7.33v1.83h-7.33zM704.81 137.15h1.83v1.83h-1.83zM708.48 137.15h1.83v1.83h-1.83zM598.56 138.98h1.83v1.83h-1.83zM602.23 138.98h7.33v1.83h-7.33zM613.22 138.98h7.33v1.83h-7.33zM624.21 138.98h1.83v1.83h-1.83zM631.54 138.98h5.50v1.83h-5.50zM646.19 138.98h5.50v1.83h-5.50zM653.52 138.98h7.33v1.83h-7.33zM664.51 138.98h1.83v1.83h-1.83zM668.18 138.98h1.83v1.83h-1.83zM673.67 138.98h3.66v1.83h-3.66zM679.17 138.98h7.33v1.83h-7.33zM690.16 138.98h5.50v1.83h-5.50zM699.32 138.98h7.33v1.83h-7.33zM708.48 138.98h1.83v1.83h-1.83zM712.14 138.98h7.33v1.83h-7.33zM600.40 140.81h7.33v1.83h-7.33zM615.05 140.81h5.50v1.83h-5.50zM626.04 140.81h1.83v1.83h-1.83zM631.54 140.81h5.50v1.83h-5.50zM648.02 140.81h14.66v1.83h-14.66zM670.01 140.81h5.50v1.83h-5.50zM679.17 140.81h5.50v1.83h-5.50zM690.16 140.81h3.66v1.83h-3.66zM695.65 140.81h1.83v1.83h-1.83zM704.81 140.81h9.16v1.83h-9.16zM715.80 140.81h1.83v1.83h-1.83zM719.47 140.81h1.83v1.83h-1.83zM613.22 142.64h1.83v1.83h-1.83zM616.88 142.64h5.50v1.83h-5.50zM624.21 142.64h3.66v1.83h-3.66zM631.54 142.64h3.66v1.83h-3.66zM637.03 142.64h1.83v1.83h-1.83zM640.70 142.64h5.50v1.83h-5.50zM649.86 142.64h5.50v1.83h-5.50zM660.85 142.64h1.83v1.83h-1.83zM670.01 142.64h3.66v1.83h-3.66zM679.17 142.64h1.83v1.83h-1.83zM682.83 142.64h1.83v1.83h-1.83zM688.33 142.64h3.66v1.83h-3.66zM693.82 142.64h1.83v1.83h-1.83zM697.49 142.64h3.66v1.83h-3.66zM702.98 142.64h3.66v1.83h-3.66zM712.14 142.64h9.16v1.83h-9.16zM594.90 144.48h12.82v1.83h-12.82zM611.39 144.48h5.50v1.83h-5.50zM620.55 144.48h7.33v1.83h-7.33zM629.71 144.48h1.83v1.83h-1.83zM633.37 144.48h1.83v1.83h-1.83zM637.03 144.48h1.83v1.83h-1.83zM644.36 144.48h7.33v1.83h-7.33zM653.52 144.48h1.83v1.83h-1.83zM657.18 144.48h1.83v1.83h-1.83zM660.85 144.48h3.66v1.83h-3.66zM668.18 144.48h1.83v1.83h-1.83zM671.84 144.48h3.66v1.83h-3.66zM681.00 144.48h3.66v1.83h-3.66zM688.33 144.48h1.83v1.83h-1.83zM693.82 144.48h1.83v1.83h-1.83zM697.49 144.48h1.83v1.83h-1.83zM702.98 144.48h3.66v1.83h-3.66zM708.48 144.48h1.83v1.83h-1.83zM712.14 144.48h5.50v1.83h-5.50zM594.90 146.31h1.83v1.83h-1.83zM605.89 146.31h1.83v1.83h-1.83zM609.56 146.31h1.83v1.83h-1.83zM613.22 146.31h1.83v1.83h-1.83zM616.88 146.31h5.50v1.83h-5.50zM637.03 146.31h1.83v1.83h-1.83zM640.70 146.31h5.50v1.83h-5.50zM653.52 146.31h1.83v1.83h-1.83zM660.85 146.31h9.16v1.83h-9.16zM671.84 146.31h12.82v1.83h-12.82zM686.49 146.31h1.83v1.83h-1.83zM693.82 146.31h1.83v1.83h-1.83zM699.32 146.31h1.83v1.83h-1.83zM702.98 146.31h3.66v1.83h-3.66zM712.14 146.31h3.66v1.83h-3.66zM717.64 146.31h3.66v1.83h-3.66zM594.90 148.14h1.83v1.83h-1.83zM598.56 148.14h5.50v1.83h-5.50zM605.89 148.14h1.83v1.83h-1.83zM609.56 148.14h1.83v1.83h-1.83zM618.71 148.14h3.66v1.83h-3.66zM624.21 148.14h5.50v1.83h-5.50zM631.54 148.14h1.83v1.83h-1.83zM640.70 148.14h1.83v1.83h-1.83zM644.36 148.14h3.66v1.83h-3.66zM651.69 148.14h10.99v1.83h-10.99zM664.51 148.14h3.66v1.83h-3.66zM670.01 148.14h1.83v1.83h-1.83zM677.33 148.14h10.99v1.83h-10.99zM701.15 148.14h1.83v1.83h-1.83zM704.81 148.14h10.99v1.83h-10.99zM717.64 148.14h3.66v1.83h-3.66zM594.90 149.97h1.83v1.83h-1.83zM598.56 149.97h5.50v1.83h-5.50zM605.89 149.97h1.83v1.83h-1.83zM609.56 149.97h1.83v1.83h-1.83zM615.05 149.97h14.66v1.83h-14.66zM637.03 149.97h1.83v1.83h-1.83zM640.70 149.97h5.50v1.83h-5.50zM648.02 149.97h3.66v1.83h-3.66zM653.52 149.97h5.50v1.83h-5.50zM662.68 149.97h1.83v1.83h-1.83zM671.84 149.97h1.83v1.83h-1.83zM679.17 149.97h5.50v1.83h-5.50zM686.49 149.97h5.50v1.83h-5.50zM702.98 149.97h1.83v1.83h-1.83zM708.48 149.97h1.83v1.83h-1.83zM713.97 149.97h1.83v1.83h-1.83zM594.90 151.80h1.83v1.83h-1.83zM598.56 151.80h5.50v1.83h-5.50zM605.89 151.80h1.83v1.83h-1.83zM609.56 151.80h3.66v1.83h-3.66zM616.88 151.80h7.33v1.83h-7.33zM626.04 151.80h3.66v1.83h-3.66zM631.54 151.80h1.83v1.83h-1.83zM640.70 151.80h1.83v1.83h-1.83zM646.19 151.80h1.83v1.83h-1.83zM649.86 151.80h5.50v1.83h-5.50zM657.18 151.80h5.50v1.83h-5.50zM664.51 151.80h1.83v1.83h-1.83zM668.18 151.80h1.83v1.83h-1.83zM671.84 151.80h1.83v1.83h-1.83zM675.50 151.80h5.50v1.83h-5.50zM682.83 151.80h9.16v1.83h-9.16zM693.82 151.80h1.83v1.83h-1.83zM697.49 151.80h5.50v1.83h-5.50zM704.81 151.80h7.33v1.83h-7.33zM719.47 151.80h1.83v1.83h-1.83zM594.90 153.64h1.83v1.83h-1.83zM605.89 153.64h1.83v1.83h-1.83zM609.56 153.64h5.50v1.83h-5.50zM622.38 153.64h1.83v1.83h-1.83zM629.71 153.64h7.33v1.83h-7.33zM644.36 153.64h7.33v1.83h-7.33zM653.52 153.64h1.83v1.83h-1.83zM662.68 153.64h3.66v1.83h-3.66zM668.18 153.64h1.83v1.83h-1.83zM671.84 153.64h1.83v1.83h-1.83zM681.00 153.64h1.83v1.83h-1.83zM684.66 153.64h1.83v1.83h-1.83zM688.33 153.64h1.83v1.83h-1.83zM695.65 153.64h1.83v1.83h-1.83zM701.15 153.64h5.50v1.83h-5.50zM710.31 153.64h1.83v1.83h-1.83zM715.80 153.64h1.83v1.83h-1.83zM594.90 155.47h12.82v1.83h-12.82zM611.39 155.47h3.66v1.83h-3.66zM618.71 155.47h3.66v1.83h-3.66zM624.21 155.47h1.83v1.83h-1.83zM627.87 155.47h1.83v1.83h-1.83zM631.54 155.47h1.83v1.83h-1.83zM637.03 155.47h1.83v1.83h-1.83zM642.53 155.47h1.83v1.83h-1.83zM646.19 155.47h1.83v1.83h-1.83zM649.86 155.47h1.83v1.83h-1.83zM666.34 155.47h1.83v1.83h-1.83zM670.01 155.47h1.83v1.83h-1.83zM675.50 155.47h9.16v1.83h-9.16zM686.49 155.47h3.66v1.83h-3.66zM691.99 155.47h14.66v1.83h-14.66zM710.31 155.47h5.50v1.83h-5.50z"/>
<rect x="31.3" y="192.5" width="449.7" height="271.7" rx="41.5" fill="#9F7549"/>
<rect x="489.2" y="193.8" width="236.3" height="272.4" rx="32.5" fill="#695E51"/>
<defs><clipPath id="cg"><rect x="31.3" y="192.5" width="449.7" height="271.7" rx="41.5"/></clipPath><clipPath id="cb"><rect x="489.2" y="193.8" width="236.3" height="272.4" rx="32.5"/></clipPath></defs>
<g clip-path="url(#cg)">
<path d="M422,185 H490 V296 C470,288 430,292 398,302 C398,260 405,220 422,185 Z" fill="#000" opacity="0.09"/>
<path d="M452,300 H490 V440 C465,420 452,360 452,300 Z" fill="#D9A774" opacity="0.16"/>
<path d="M376,172 C383,168.5 402,167.5 423,171.5 C436,176 443,188 449,197 C446,203 430,206 417,210 L414,216 C400,200 380,192 353,198 C350,190 360,178 376,172 Z" fill="#8A6642"/>
<path d="M362,191 C345,200 322,212 307,222 C310,228 318,233 330,236 C345,242 380,243.5 400,241 C412,239 421,234 421,229 C418,218 412,205 406,195 C395,188 375,187 362,191 Z" fill="#B58E63"/>
<ellipse cx="322" cy="200" rx="2.6" ry="1.3" fill="#B58E63"/>
<ellipse cx="331" cy="203.5" rx="2.2" ry="1.2" fill="#B58E63"/>
<ellipse cx="339" cy="199" rx="2.8" ry="1.4" fill="#B58E63"/>
<ellipse cx="346" cy="204" rx="1.8" ry="1" fill="#B58E63"/>
<ellipse cx="316" cy="206" rx="1.8" ry="1" fill="#B58E63"/>
<ellipse cx="429" cy="231" rx="2.4" ry="1.3" fill="#B58E63"/>
<ellipse cx="424" cy="237" rx="1.8" ry="1" fill="#B58E63"/>
<ellipse cx="433" cy="226" rx="1.5" ry="0.9" fill="#B58E63"/>
<ellipse cx="351.1" cy="204.2" rx="1.8" ry="1.1" fill="#A37A51"/>
<ellipse cx="382.5" cy="201.0" rx="1.8" ry="1.1" fill="#A37A51"/>
<ellipse cx="371.4" cy="213.0" rx="1.8" ry="1.1" fill="#A37A51"/>
<ellipse cx="325.6" cy="218.8" rx="1.8" ry="1.1" fill="#A37A51"/>
<ellipse cx="360.8" cy="231.9" rx="1.8" ry="1.1" fill="#A37A51"/>
<ellipse cx="380.2" cy="236.9" rx="1.8" ry="1.1" fill="#A37A51"/>
<ellipse cx="375.4" cy="214.3" rx="1.8" ry="1.1" fill="#A37A51"/>
<ellipse cx="413.7" cy="199.9" rx="1.8" ry="1.1" fill="#A37A51"/>
<ellipse cx="402.4" cy="209.9" rx="1.8" ry="1.1" fill="#A37A51"/>
<ellipse cx="349.6" cy="231.5" rx="1.8" ry="1.1" fill="#A37A51"/>
<ellipse cx="337.3" cy="221.8" rx="1.8" ry="1.1" fill="#A37A51"/>
<ellipse cx="381.3" cy="213.3" rx="1.8" ry="1.1" fill="#A37A51"/>
<ellipse cx="372.6" cy="200.6" rx="1.8" ry="1.1" fill="#A37A51"/>
<ellipse cx="385.3" cy="215.5" rx="1.8" ry="1.1" fill="#A37A51"/>
<ellipse cx="350.2" cy="222.0" rx="1.8" ry="1.1" fill="#A37A51"/>
<ellipse cx="363.5" cy="210.3" rx="1.8" ry="1.1" fill="#A37A51"/>
<ellipse cx="396.3" cy="226.7" rx="1.8" ry="1.1" fill="#A37A51"/>
<ellipse cx="343.4" cy="221.6" rx="1.8" ry="1.1" fill="#A37A51"/>
<ellipse cx="370.4" cy="233.9" rx="1.8" ry="1.1" fill="#A37A51"/>
<ellipse cx="390.0" cy="209.8" rx="1.8" ry="1.1" fill="#A37A51"/>
<ellipse cx="414.1" cy="202.8" rx="1.8" ry="1.1" fill="#A37A51"/>
<ellipse cx="360.1" cy="229.0" rx="1.8" ry="1.1" fill="#A37A51"/>
<ellipse cx="334.6" cy="218.0" rx="1.8" ry="1.1" fill="#A37A51"/>
<ellipse cx="323.8" cy="225.4" rx="1.8" ry="1.1" fill="#A37A51"/>
<ellipse cx="393.4" cy="221.5" rx="1.8" ry="1.1" fill="#A37A51"/>
<ellipse cx="404.0" cy="210.9" rx="1.8" ry="1.1" fill="#A37A51"/>
<ellipse cx="386.7" cy="222.4" rx="1.8" ry="1.1" fill="#A37A51"/>
<ellipse cx="375.7" cy="216.7" rx="1.8" ry="1.1" fill="#A37A51"/>
<ellipse cx="400.6" cy="236.7" rx="1.8" ry="1.1" fill="#A37A51"/>
<ellipse cx="365.5" cy="225.2" rx="1.8" ry="1.1" fill="#A37A51"/>
<ellipse cx="325.8" cy="226.8" rx="1.8" ry="1.1" fill="#A37A51"/>
<ellipse cx="382.1" cy="238.7" rx="1.8" ry="1.1" fill="#A37A51"/>
<ellipse cx="398.9" cy="209.7" rx="1.8" ry="1.1" fill="#A37A51"/>
<ellipse cx="357.0" cy="225.4" rx="1.8" ry="1.1" fill="#A37A51"/>
<ellipse cx="325.7" cy="229.5" rx="1.8" ry="1.1" fill="#A37A51"/>
<ellipse cx="357.5" cy="233.7" rx="1.8" ry="1.1" fill="#A37A51"/>
<ellipse cx="327.7" cy="216.4" rx="1.8" ry="1.1" fill="#A37A51"/>
<ellipse cx="372.7" cy="234.2" rx="1.8" ry="1.1" fill="#A37A51"/>
<ellipse cx="398.7" cy="233.4" rx="1.8" ry="1.1" fill="#A37A51"/>
<ellipse cx="346.7" cy="215.0" rx="1.8" ry="1.1" fill="#A37A51"/>
<ellipse cx="354.4" cy="234.3" rx="1.8" ry="1.1" fill="#A37A51"/>
<ellipse cx="411.9" cy="204.2" rx="1.8" ry="1.1" fill="#A37A51"/>
<ellipse cx="342.4" cy="217.9" rx="1.8" ry="1.1" fill="#A37A51"/>
<ellipse cx="376.6" cy="208.8" rx="1.8" ry="1.1" fill="#A37A51"/>
<ellipse cx="355.4" cy="221.2" rx="1.8" ry="1.1" fill="#A37A51"/>
<ellipse cx="411.5" cy="226.3" rx="1.8" ry="1.1" fill="#A37A51"/>
<ellipse cx="369.5" cy="223.3" rx="1.8" ry="1.1" fill="#A37A51"/>
<ellipse cx="384.9" cy="200.2" rx="1.8" ry="1.1" fill="#A37A51"/>
<ellipse cx="406.4" cy="230.0" rx="1.8" ry="1.1" fill="#A37A51"/>
<ellipse cx="404.0" cy="230.7" rx="1.8" ry="1.1" fill="#A37A51"/>
</g>
<g clip-path="url(#cb)">
<path d="M645,169 C655,165 677,164 697,172 C710,178 718,188 723,194 C722,199 705,204 691,211 L688,216 C672,200 650,194 618,198 C616,190 628,176 645,169 Z" fill="#80766B"/>
<path d="M652,173 C662,170 680,170 694,176 C704,181 711,188 715,194 L700,200 C690,186 668,178 640,182 Z" fill="#746A5F"/>
<path d="M628,193 C610,202 585,216 569,227 C574,234 590,240 610,245 C640,251.5 670,250.5 688,242 C694,238 693,232 690,226 C686,215 680,203 672,196 C660,189 640,188 628,193 Z" fill="#A8A097"/>
<ellipse cx="583" cy="204" rx="2.6" ry="1.3" fill="#A8A097"/>
<ellipse cx="592" cy="201" rx="2.2" ry="1.2" fill="#A8A097"/>
<ellipse cx="600" cy="205" rx="2.8" ry="1.4" fill="#A8A097"/>
<ellipse cx="577" cy="209" rx="1.8" ry="1" fill="#A8A097"/>
<ellipse cx="588" cy="197" rx="2.4" ry="1.1" fill="#A8A097"/>
<ellipse cx="700" cy="243" rx="2.6" ry="1.4" fill="#A8A097"/>
<ellipse cx="694" cy="249" rx="1.9" ry="1" fill="#A8A097"/>
<ellipse cx="705" cy="237" rx="1.5" ry="0.9" fill="#A8A097"/>
<ellipse cx="683" cy="252" rx="2.2" ry="1.2" fill="#A8A097"/>
<ellipse cx="629.0" cy="225.4" rx="1.9" ry="1.2" fill="#857D74"/>
<ellipse cx="678.1" cy="220.8" rx="1.9" ry="1.2" fill="#857D74"/>
<ellipse cx="634.8" cy="226.8" rx="1.9" ry="1.2" fill="#857D74"/>
<ellipse cx="601.2" cy="223.1" rx="1.9" ry="1.2" fill="#857D74"/>
<ellipse cx="647.5" cy="236.9" rx="1.9" ry="1.2" fill="#857D74"/>
<ellipse cx="591.4" cy="237.7" rx="1.9" ry="1.2" fill="#857D74"/>
<ellipse cx="654.1" cy="200.1" rx="1.9" ry="1.2" fill="#857D74"/>
<ellipse cx="684.1" cy="245.3" rx="1.9" ry="1.2" fill="#857D74"/>
<ellipse cx="650.0" cy="228.2" rx="1.9" ry="1.2" fill="#857D74"/>
<ellipse cx="637.0" cy="200.9" rx="1.9" ry="1.2" fill="#857D74"/>
<ellipse cx="585.1" cy="220.7" rx="1.9" ry="1.2" fill="#857D74"/>
<ellipse cx="627.8" cy="239.3" rx="1.9" ry="1.2" fill="#857D74"/>
<ellipse cx="636.0" cy="229.4" rx="1.9" ry="1.2" fill="#857D74"/>
<ellipse cx="634.0" cy="230.5" rx="1.9" ry="1.2" fill="#857D74"/>
<ellipse cx="629.6" cy="211.6" rx="1.9" ry="1.2" fill="#857D74"/>
<ellipse cx="685.8" cy="246.8" rx="1.9" ry="1.2" fill="#857D74"/>
<ellipse cx="669.4" cy="232.7" rx="1.9" ry="1.2" fill="#857D74"/>
<ellipse cx="614.8" cy="209.3" rx="1.9" ry="1.2" fill="#857D74"/>
<ellipse cx="661.7" cy="217.6" rx="1.9" ry="1.2" fill="#857D74"/>
<ellipse cx="670.0" cy="216.9" rx="1.9" ry="1.2" fill="#857D74"/>
<ellipse cx="681.6" cy="239.5" rx="1.9" ry="1.2" fill="#857D74"/>
<ellipse cx="676.7" cy="221.0" rx="1.9" ry="1.2" fill="#857D74"/>
<ellipse cx="684.0" cy="217.5" rx="1.9" ry="1.2" fill="#857D74"/>
<ellipse cx="589.6" cy="228.8" rx="1.9" ry="1.2" fill="#857D74"/>
<ellipse cx="663.0" cy="211.2" rx="1.9" ry="1.2" fill="#857D74"/>
<ellipse cx="682.3" cy="235.1" rx="1.9" ry="1.2" fill="#857D74"/>
<ellipse cx="664.9" cy="206.7" rx="1.9" ry="1.2" fill="#857D74"/>
<ellipse cx="640.2" cy="219.9" rx="1.9" ry="1.2" fill="#857D74"/>
<ellipse cx="601.8" cy="233.9" rx="1.9" ry="1.2" fill="#857D74"/>
<ellipse cx="595.6" cy="229.5" rx="1.9" ry="1.2" fill="#857D74"/>
<ellipse cx="594.1" cy="218.6" rx="1.9" ry="1.2" fill="#857D74"/>
<ellipse cx="604.1" cy="211.2" rx="1.9" ry="1.2" fill="#857D74"/>
<ellipse cx="683.0" cy="237.4" rx="1.9" ry="1.2" fill="#857D74"/>
<ellipse cx="613.6" cy="241.4" rx="1.9" ry="1.2" fill="#857D74"/>
<ellipse cx="603.9" cy="217.3" rx="1.9" ry="1.2" fill="#857D74"/>
<ellipse cx="670.9" cy="229.4" rx="1.9" ry="1.2" fill="#857D74"/>
<ellipse cx="592.4" cy="246.5" rx="1.9" ry="1.2" fill="#857D74"/>
<ellipse cx="604.2" cy="210.7" rx="1.9" ry="1.2" fill="#857D74"/>
<ellipse cx="662.4" cy="214.1" rx="1.9" ry="1.2" fill="#857D74"/>
<ellipse cx="591.4" cy="226.6" rx="1.9" ry="1.2" fill="#857D74"/>
<ellipse cx="607.3" cy="227.5" rx="1.9" ry="1.2" fill="#857D74"/>
<ellipse cx="620.7" cy="220.2" rx="1.9" ry="1.2" fill="#857D74"/>
<ellipse cx="681.8" cy="221.7" rx="1.9" ry="1.2" fill="#857D74"/>
<ellipse cx="641.8" cy="240.5" rx="1.9" ry="1.2" fill="#857D74"/>
<ellipse cx="676.5" cy="238.1" rx="1.9" ry="1.2" fill="#857D74"/>
<ellipse cx="658.9" cy="244.1" rx="1.9" ry="1.2" fill="#857D74"/>
<ellipse cx="602.4" cy="244.6" rx="1.9" ry="1.2" fill="#857D74"/>
<ellipse cx="673.7" cy="227.6" rx="1.9" ry="1.2" fill="#857D74"/>
<ellipse cx="625.8" cy="203.1" rx="1.9" ry="1.2" fill="#857D74"/>
<ellipse cx="586.0" cy="245.2" rx="1.9" ry="1.2" fill="#857D74"/>
<ellipse cx="606.8" cy="232.5" rx="1.9" ry="1.2" fill="#857D74"/>
<ellipse cx="608.7" cy="238.4" rx="1.9" ry="1.2" fill="#857D74"/>
<ellipse cx="644.0" cy="212.4" rx="1.9" ry="1.2" fill="#857D74"/>
<ellipse cx="600.2" cy="233.3" rx="1.9" ry="1.2" fill="#857D74"/>
<ellipse cx="640.2" cy="239.8" rx="1.9" ry="1.2" fill="#857D74"/>
<ellipse cx="645.9" cy="211.7" rx="1.9" ry="1.2" fill="#857D74"/>
<ellipse cx="677.4" cy="208.0" rx="1.9" ry="1.2" fill="#857D74"/>
</g>
<text x="108.00" y="224.50" font-size="23.6" font-weight="700" fill="#fff" textLength="176.00" lengthAdjust="spacingAndGlyphs" stroke="#fff" stroke-width="0.5">HARGA GABAH</text>
<text x="524.50" y="223.80" font-size="23.6" font-weight="700" fill="#fff" textLength="169.00" lengthAdjust="spacingAndGlyphs" stroke="#fff" stroke-width="0.5">HARGA BERAS</text>
<text x="45.00" y="263.75" font-size="13.8" font-weight="400" fill="#FAF3EA" textLength="92.50" lengthAdjust="spacingAndGlyphs" stroke="#FAF3EA" stroke-width="0.3">Gabah Kering</text>
<text x="58.75" y="281.00" font-size="13.8" font-weight="400" fill="#FAF3EA" textLength="83.00" lengthAdjust="spacingAndGlyphs" stroke="#FAF3EA" stroke-width="0.3">Giling (GKG)</text>
<text x="43.75" y="333.25" font-size="13.8" font-weight="400" fill="#FAF3EA" textLength="92.75" lengthAdjust="spacingAndGlyphs" stroke="#FAF3EA" stroke-width="0.3">Gabah Kering</text>
<text x="54.25" y="350.50" font-size="13.8" font-weight="400" fill="#FAF3EA" textLength="85.75" lengthAdjust="spacingAndGlyphs" stroke="#FAF3EA" stroke-width="0.3">Panen (GKP)</text>
<text x="89.50" y="410.00" font-size="13.8" font-weight="400" fill="#FAF3EA" textLength="43.75" lengthAdjust="spacingAndGlyphs" stroke="#FAF3EA" stroke-width="0.3">Gabah</text>
<text x="50.50" y="427.50" font-size="13.8" font-weight="400" fill="#FAF3EA" textLength="87.00" lengthAdjust="spacingAndGlyphs" stroke="#FAF3EA" stroke-width="0.3">Luar Kualitas</text>
<polygon points="160.5,260.0 186.0,260.0 173.2,247.5" fill="#2C9A4E"/>
<text x="155.75" y="276.25" font-size="13.1" font-weight="400" fill="#FAF3EA" textLength="31.25" lengthAdjust="spacingAndGlyphs" stroke="#FAF3EA" stroke-width="0.3">NAIK</text>
<text x="155.00" y="292.50" font-size="13.1" font-weight="400" fill="#FAF3EA" textLength="33.75" lengthAdjust="spacingAndGlyphs" stroke="#FAF3EA" stroke-width="0.3">1,37%</text>
<text x="201.75" y="258.00" font-size="15.2" font-weight="700" fill="#fff" textLength="44.50" lengthAdjust="spacingAndGlyphs" stroke="#fff" stroke-width="0.85" stroke-linejoin="round">Petani</text>
<rect x="201.75" y="262.00" width="80.45" height="28.00" fill="#D2B042"/>
<text x="203.25" y="282.50" font-size="13.1" font-weight="400" fill="#1d1710" textLength="16.75" lengthAdjust="spacingAndGlyphs" stroke="#1d1710" stroke-width="0.25">Rp</text>
<text x="225.00" y="282.50" font-size="20.8" font-weight="700" fill="#1d1710" textLength="53.75" lengthAdjust="spacingAndGlyphs" stroke="#1d1710" stroke-width="0.75" stroke-linejoin="round">7.397</text>
<polygon points="160.0,325.5 186.2,325.5 173.1,313.0" fill="#2C9A4E"/>
<text x="155.75" y="343.00" font-size="13.1" font-weight="400" fill="#FAF3EA" textLength="31.75" lengthAdjust="spacingAndGlyphs" stroke="#FAF3EA" stroke-width="0.3">NAIK</text>
<text x="152.50" y="359.50" font-size="13.1" font-weight="400" fill="#FAF3EA" textLength="37.50" lengthAdjust="spacingAndGlyphs" stroke="#FAF3EA" stroke-width="0.3">2,26%</text>
<text x="201.75" y="327.50" font-size="15.2" font-weight="700" fill="#fff" textLength="44.50" lengthAdjust="spacingAndGlyphs" stroke="#fff" stroke-width="0.85" stroke-linejoin="round">Petani</text>
<rect x="201.75" y="335.00" width="80.65" height="27.50" fill="#D2B042"/>
<text x="203.25" y="355.50" font-size="13.1" font-weight="400" fill="#1d1710" textLength="16.75" lengthAdjust="spacingAndGlyphs" stroke="#1d1710" stroke-width="0.25">Rp</text>
<text x="224.50" y="355.50" font-size="20.8" font-weight="700" fill="#1d1710" textLength="56.75" lengthAdjust="spacingAndGlyphs" stroke="#1d1710" stroke-width="0.75" stroke-linejoin="round">6.589</text>
<polygon points="160.0,384.2 186.8,384.2 173.4,397.0" fill="#B6313A"/>
<text x="148.00" y="416.25" font-size="13.1" font-weight="400" fill="#FAF3EA" textLength="47.00" lengthAdjust="spacingAndGlyphs" stroke="#FAF3EA" stroke-width="0.3">TURUN</text>
<text x="153.75" y="432.50" font-size="13.1" font-weight="400" fill="#FAF3EA" textLength="35.50" lengthAdjust="spacingAndGlyphs" stroke="#FAF3EA" stroke-width="0.3">4,16%</text>
<text x="201.75" y="398.75" font-size="15.2" font-weight="700" fill="#fff" textLength="44.50" lengthAdjust="spacingAndGlyphs" stroke="#fff" stroke-width="0.85" stroke-linejoin="round">Petani</text>
<rect x="201.75" y="408.75" width="80.25" height="28.00" fill="#D2B042"/>
<text x="203.25" y="429.25" font-size="13.1" font-weight="400" fill="#1d1710" textLength="16.75" lengthAdjust="spacingAndGlyphs" stroke="#1d1710" stroke-width="0.25">Rp</text>
<text x="223.75" y="429.25" font-size="20.8" font-weight="700" fill="#1d1710" textLength="55.75" lengthAdjust="spacingAndGlyphs" stroke="#1d1710" stroke-width="0.75" stroke-linejoin="round">5.885</text>
<polygon points="312.0,257.5 337.5,257.5 324.8,245.5" fill="#2C9A4E"/>
<text x="309.50" y="279.25" font-size="13.1" font-weight="400" fill="#FAF3EA" textLength="31.75" lengthAdjust="spacingAndGlyphs" stroke="#FAF3EA" stroke-width="0.3">NAIK</text>
<text x="307.50" y="295.50" font-size="13.1" font-weight="400" fill="#FAF3EA" textLength="35.00" lengthAdjust="spacingAndGlyphs" stroke="#FAF3EA" stroke-width="0.3">1,46%</text>
<text x="348.25" y="258.00" font-size="15.2" font-weight="700" fill="#fff" textLength="93.75" lengthAdjust="spacingAndGlyphs" stroke="#fff" stroke-width="0.85" stroke-linejoin="round">Penggilingan</text>
<rect x="367.00" y="263.00" width="80.50" height="27.75" fill="#D2B042"/>
<text x="369.25" y="283.25" font-size="13.1" font-weight="400" fill="#1d1710" textLength="16.50" lengthAdjust="spacingAndGlyphs" stroke="#1d1710" stroke-width="0.25">Rp</text>
<text x="390.75" y="283.25" font-size="20.8" font-weight="700" fill="#1d1710" textLength="54.25" lengthAdjust="spacingAndGlyphs" stroke="#1d1710" stroke-width="0.75" stroke-linejoin="round">7.473</text>
<polygon points="311.8,326.2 337.5,326.2 324.6,314.2" fill="#2C9A4E"/>
<text x="309.50" y="346.25" font-size="13.1" font-weight="400" fill="#FAF3EA" textLength="31.75" lengthAdjust="spacingAndGlyphs" stroke="#FAF3EA" stroke-width="0.3">NAIK</text>
<text x="305.50" y="363.00" font-size="13.1" font-weight="400" fill="#FAF3EA" textLength="39.50" lengthAdjust="spacingAndGlyphs" stroke="#FAF3EA" stroke-width="0.3">2,05%</text>
<text x="349.50" y="327.20" font-size="15.2" font-weight="700" fill="#fff" textLength="93.75" lengthAdjust="spacingAndGlyphs" stroke="#fff" stroke-width="0.85" stroke-linejoin="round">Penggilingan</text>
<rect x="367.00" y="333.25" width="80.50" height="28.00" fill="#D2B042"/>
<text x="367.50" y="353.75" font-size="13.1" font-weight="400" fill="#1d1710" textLength="15.50" lengthAdjust="spacingAndGlyphs" stroke="#1d1710" stroke-width="0.25">Rp</text>
<text x="388.00" y="353.75" font-size="20.8" font-weight="700" fill="#1d1710" textLength="58.75" lengthAdjust="spacingAndGlyphs" stroke="#1d1710" stroke-width="0.75" stroke-linejoin="round">6.700</text>
<polygon points="310.8,385.0 338.8,385.0 324.8,397.5" fill="#B6313A"/>
<text x="302.50" y="418.00" font-size="13.1" font-weight="400" fill="#FAF3EA" textLength="46.25" lengthAdjust="spacingAndGlyphs" stroke="#FAF3EA" stroke-width="0.3">TURUN</text>
<text x="305.75" y="434.25" font-size="13.1" font-weight="400" fill="#FAF3EA" textLength="38.50" lengthAdjust="spacingAndGlyphs" stroke="#FAF3EA" stroke-width="0.3">4,27%</text>
<text x="349.50" y="398.25" font-size="15.2" font-weight="700" fill="#fff" textLength="93.75" lengthAdjust="spacingAndGlyphs" stroke="#fff" stroke-width="0.85" stroke-linejoin="round">Penggilingan</text>
<rect x="367.00" y="408.00" width="80.50" height="27.75" fill="#D2B042"/>
<text x="368.00" y="429.25" font-size="13.1" font-weight="400" fill="#1d1710" textLength="15.50" lengthAdjust="spacingAndGlyphs" stroke="#1d1710" stroke-width="0.25">Rp</text>
<text x="388.75" y="429.25" font-size="20.8" font-weight="700" fill="#1d1710" textLength="56.75" lengthAdjust="spacingAndGlyphs" stroke="#1d1710" stroke-width="0.75" stroke-linejoin="round">5.958</text>
<polygon points="503.8,262.0 528.8,262.0 516.2,250.0" fill="#2C9A4E"/>
<text x="500.50" y="277.50" font-size="13.1" font-weight="400" fill="#FAF3EA" textLength="32.00" lengthAdjust="spacingAndGlyphs" stroke="#FAF3EA" stroke-width="0.3">NAIK</text>
<text x="498.00" y="293.75" font-size="13.1" font-weight="400" fill="#FAF3EA" textLength="35.75" lengthAdjust="spacingAndGlyphs" stroke="#FAF3EA" stroke-width="0.3">1,64%</text>
<text x="543.00" y="258.25" font-size="15.2" font-weight="700" fill="#fff" textLength="94.50" lengthAdjust="spacingAndGlyphs" stroke="#fff" stroke-width="0.85" stroke-linejoin="round">Penggilingan</text>
<rect x="548.00" y="269.50" width="91.25" height="27.25" fill="#B9A540"/>
<text x="549.50" y="290.50" font-size="13.1" font-weight="400" fill="#1d1710" textLength="15.50" lengthAdjust="spacingAndGlyphs" stroke="#1d1710" stroke-width="0.25">Rp</text>
<text x="570.00" y="290.50" font-size="20.8" font-weight="700" fill="#1d1710" textLength="63.75" lengthAdjust="spacingAndGlyphs" stroke="#1d1710" stroke-width="0.75" stroke-linejoin="round">12.935</text>
<text x="651.00" y="287.50" font-size="13.4" font-weight="400" fill="#FAF3EA" textLength="60.00" lengthAdjust="spacingAndGlyphs" stroke="#FAF3EA" stroke-width="0.3">Premium</text>
<polygon points="502.0,329.5 527.5,329.5 514.8,315.5" fill="#2C9A4E"/>
<text x="500.50" y="347.50" font-size="13.1" font-weight="400" fill="#FAF3EA" textLength="32.00" lengthAdjust="spacingAndGlyphs" stroke="#FAF3EA" stroke-width="0.3">NAIK</text>
<text x="497.00" y="363.75" font-size="13.1" font-weight="400" fill="#FAF3EA" textLength="38.50" lengthAdjust="spacingAndGlyphs" stroke="#FAF3EA" stroke-width="0.3">0,83%</text>
<text x="544.50" y="327.50" font-size="15.2" font-weight="700" fill="#fff" textLength="94.25" lengthAdjust="spacingAndGlyphs" stroke="#fff" stroke-width="0.85" stroke-linejoin="round">Penggilingan</text>
<rect x="549.25" y="338.00" width="90.00" height="27.75" fill="#B9A540"/>
<text x="551.25" y="357.00" font-size="13.1" font-weight="400" fill="#1d1710" textLength="15.75" lengthAdjust="spacingAndGlyphs" stroke="#1d1710" stroke-width="0.25">Rp</text>
<text x="572.00" y="357.00" font-size="20.8" font-weight="700" fill="#1d1710" textLength="66.25" lengthAdjust="spacingAndGlyphs" stroke="#1d1710" stroke-width="0.75" stroke-linejoin="round">12.036</text>
<text x="656.50" y="353.00" font-size="13.4" font-weight="400" fill="#FAF3EA" textLength="53.75" lengthAdjust="spacingAndGlyphs" stroke="#FAF3EA" stroke-width="0.3">Medium</text>
<polygon points="503.8,400.8 528.8,400.8 516.2,388.0" fill="#2C9A4E"/>
<text x="500.50" y="419.25" font-size="13.1" font-weight="400" fill="#FAF3EA" textLength="32.00" lengthAdjust="spacingAndGlyphs" stroke="#FAF3EA" stroke-width="0.3">NAIK</text>
<text x="498.00" y="435.00" font-size="13.1" font-weight="400" fill="#FAF3EA" textLength="35.75" lengthAdjust="spacingAndGlyphs" stroke="#FAF3EA" stroke-width="0.3">1,04%</text>
<text x="543.00" y="398.75" font-size="15.2" font-weight="700" fill="#fff" textLength="94.50" lengthAdjust="spacingAndGlyphs" stroke="#fff" stroke-width="0.85" stroke-linejoin="round">Penggilingan</text>
<rect x="548.00" y="412.50" width="93.75" height="27.50" fill="#B9A540"/>
<text x="551.25" y="431.25" font-size="13.1" font-weight="400" fill="#1d1710" textLength="15.75" lengthAdjust="spacingAndGlyphs" stroke="#1d1710" stroke-width="0.25">Rp</text>
<text x="572.00" y="431.25" font-size="20.8" font-weight="700" fill="#1d1710" textLength="64.25" lengthAdjust="spacingAndGlyphs" stroke="#1d1710" stroke-width="0.75" stroke-linejoin="round">12.367</text>
<text x="657.75" y="428.00" font-size="13.4" font-weight="400" fill="#FAF3EA" textLength="50.75" lengthAdjust="spacingAndGlyphs" stroke="#FAF3EA" stroke-width="0.3">Rendah</text>
<path d="M22 737.2 V499.7 H723.5 V737.2 Z" fill="none" stroke="#E4D8CC" stroke-width="1"/>
<line x1="142.5" y1="506.25" x2="723.5" y2="506.25" stroke="#E2D9D0" stroke-width="1"/>
<text x="130.00" y="510.15" font-size="11.0" font-weight="700" fill="#55504D" text-anchor="end">9.500</text>
<line x1="142.5" y1="522.28" x2="723.5" y2="522.28" stroke="#E2D9D0" stroke-width="1"/>
<text x="130.00" y="526.18" font-size="11.0" font-weight="700" fill="#55504D" text-anchor="end">9.000</text>
<line x1="142.5" y1="538.31" x2="723.5" y2="538.31" stroke="#E2D9D0" stroke-width="1"/>
<text x="130.00" y="542.21" font-size="11.0" font-weight="700" fill="#55504D" text-anchor="end">8.500</text>
<line x1="142.5" y1="554.34" x2="723.5" y2="554.34" stroke="#E2D9D0" stroke-width="1"/>
<text x="130.00" y="558.24" font-size="11.0" font-weight="700" fill="#55504D" text-anchor="end">8.000</text>
<line x1="142.5" y1="570.37" x2="723.5" y2="570.37" stroke="#E2D9D0" stroke-width="1"/>
<text x="130.00" y="574.27" font-size="11.0" font-weight="700" fill="#55504D" text-anchor="end">7.500</text>
<line x1="142.5" y1="586.40" x2="723.5" y2="586.40" stroke="#E2D9D0" stroke-width="1"/>
<text x="130.00" y="590.30" font-size="11.0" font-weight="700" fill="#55504D" text-anchor="end">7.000</text>
<line x1="142.5" y1="602.43" x2="723.5" y2="602.43" stroke="#E2D9D0" stroke-width="1"/>
<text x="130.00" y="606.33" font-size="11.0" font-weight="700" fill="#55504D" text-anchor="end">6.500</text>
<line x1="142.5" y1="618.46" x2="723.5" y2="618.46" stroke="#E2D9D0" stroke-width="1"/>
<text x="130.00" y="622.36" font-size="11.0" font-weight="700" fill="#55504D" text-anchor="end">6.000</text>
<line x1="142.5" y1="634.49" x2="723.5" y2="634.49" stroke="#E2D9D0" stroke-width="1"/>
<text x="130.00" y="638.39" font-size="11.0" font-weight="700" fill="#55504D" text-anchor="end">5.500</text>
<line x1="142.5" y1="650.52" x2="723.5" y2="650.52" stroke="#E2D9D0" stroke-width="1"/>
<text x="130.00" y="654.42" font-size="11.0" font-weight="700" fill="#55504D" text-anchor="end">5.000</text>
<line x1="142.5" y1="666.55" x2="723.5" y2="666.55" stroke="#E2D9D0" stroke-width="1"/>
<text x="130.00" y="670.45" font-size="11.0" font-weight="700" fill="#55504D" text-anchor="end">4.500</text>
<text transform="translate(61.5,575.6) rotate(-90)" text-anchor="middle" font-size="11.6" font-weight="700" fill="#55504D">Rupiah</text>
<line x1="39.5" y1="683.80" x2="723.5" y2="683.80" stroke="#E2D9D0" stroke-width="1"/>
<line x1="39.5" y1="701.70" x2="723.5" y2="701.70" stroke="#E2D9D0" stroke-width="1"/>
<line x1="39.5" y1="719.50" x2="723.5" y2="719.50" stroke="#E2D9D0" stroke-width="1"/>
<line x1="39.5" y1="737.20" x2="723.5" y2="737.20" stroke="#E2D9D0" stroke-width="1"/>
<line x1="39.5" y1="683.80" x2="39.5" y2="737.20" stroke="#E2D9D0" stroke-width="1"/>
<line x1="142.50" y1="666.40" x2="142.50" y2="737.20" stroke="#E2D9D0" stroke-width="1"/>
<line x1="184.00" y1="666.40" x2="184.00" y2="737.20" stroke="#E2D9D0" stroke-width="1"/>
<line x1="225.50" y1="666.40" x2="225.50" y2="737.20" stroke="#E2D9D0" stroke-width="1"/>
<line x1="267.00" y1="666.40" x2="267.00" y2="737.20" stroke="#E2D9D0" stroke-width="1"/>
<line x1="308.50" y1="666.40" x2="308.50" y2="737.20" stroke="#E2D9D0" stroke-width="1"/>
<line x1="350.00" y1="666.40" x2="350.00" y2="737.20" stroke="#E2D9D0" stroke-width="1"/>
<line x1="391.50" y1="666.40" x2="391.50" y2="737.20" stroke="#E2D9D0" stroke-width="1"/>
<line x1="433.00" y1="666.40" x2="433.00" y2="737.20" stroke="#E2D9D0" stroke-width="1"/>
<line x1="474.50" y1="666.40" x2="474.50" y2="737.20" stroke="#E2D9D0" stroke-width="1"/>
<line x1="516.00" y1="666.40" x2="516.00" y2="737.20" stroke="#E2D9D0" stroke-width="1"/>
<line x1="557.50" y1="666.40" x2="557.50" y2="737.20" stroke="#E2D9D0" stroke-width="1"/>
<line x1="599.00" y1="666.40" x2="599.00" y2="737.20" stroke="#E2D9D0" stroke-width="1"/>
<line x1="640.50" y1="666.40" x2="640.50" y2="737.20" stroke="#E2D9D0" stroke-width="1"/>
<line x1="682.00" y1="666.40" x2="682.00" y2="737.20" stroke="#E2D9D0" stroke-width="1"/>
<line x1="723.50" y1="666.40" x2="723.50" y2="737.20" stroke="#E2D9D0" stroke-width="1"/>
<text x="163.25" y="679.00" font-size="10.6" font-weight="700" fill="#55504D" text-anchor="middle">Nov '23</text>
<text x="204.75" y="679.00" font-size="10.6" font-weight="700" fill="#55504D" text-anchor="middle">Des '23</text>
<text x="246.25" y="679.00" font-size="10.6" font-weight="700" fill="#55504D" text-anchor="middle">Jan '24</text>
<text x="287.75" y="679.00" font-size="10.6" font-weight="700" fill="#55504D" text-anchor="middle">Feb '24</text>
<text x="329.25" y="679.00" font-size="10.6" font-weight="700" fill="#55504D" text-anchor="middle">Mar '24</text>
<text x="370.75" y="679.00" font-size="10.6" font-weight="700" fill="#55504D" text-anchor="middle">Apr '24</text>
<text x="412.25" y="679.00" font-size="10.6" font-weight="700" fill="#55504D" text-anchor="middle">Mei '24</text>
<text x="453.75" y="679.00" font-size="10.6" font-weight="700" fill="#55504D" text-anchor="middle">Jun '24</text>
<text x="495.25" y="679.00" font-size="10.6" font-weight="700" fill="#55504D" text-anchor="middle">Jul '24</text>
<text x="536.75" y="679.00" font-size="10.6" font-weight="700" fill="#55504D" text-anchor="middle">Ags '24</text>
<text x="578.25" y="679.00" font-size="10.6" font-weight="700" fill="#55504D" text-anchor="middle">Sep'24</text>
<text x="619.75" y="679.00" font-size="10.6" font-weight="700" fill="#55504D" text-anchor="middle">Okt'24</text>
<text x="661.25" y="679.00" font-size="10.6" font-weight="700" fill="#55504D" text-anchor="middle">Nov'24</text>
<text x="702.75" y="679.00" font-size="10.6" font-weight="700" fill="#55504D" text-anchor="middle">Des'24</text>
<line x1="43.0" y1="692.75" x2="73.75" y2="692.75" stroke="#DF7A39" stroke-width="2.6" stroke-linecap="round"/>
<circle cx="58.25" cy="692.75" r="3.3" fill="#DF7A39"/>
<text x="77.00" y="696.65" font-size="10.8" font-weight="700" fill="#55504D" textLength="23.00" lengthAdjust="spacingAndGlyphs">GKG</text>
<text x="163.25" y="696.65" font-size="10.8" font-weight="700" fill="#55504D" text-anchor="middle">7.831</text>
<text x="204.75" y="696.65" font-size="10.8" font-weight="700" fill="#55504D" text-anchor="middle">8.217</text>
<text x="246.25" y="696.65" font-size="10.8" font-weight="700" fill="#55504D" text-anchor="middle">8.325</text>
<text x="287.75" y="696.65" font-size="10.8" font-weight="700" fill="#55504D" text-anchor="middle">8.989</text>
<text x="329.25" y="696.65" font-size="10.8" font-weight="700" fill="#55504D" text-anchor="middle">7.938</text>
<text x="370.75" y="696.65" font-size="10.8" font-weight="700" fill="#55504D" text-anchor="middle">6.349</text>
<text x="412.25" y="696.65" font-size="10.8" font-weight="700" fill="#55504D" text-anchor="middle">6.279</text>
<text x="453.75" y="696.65" font-size="10.8" font-weight="700" fill="#55504D" text-anchor="middle">6.887</text>
<text x="495.25" y="696.65" font-size="10.8" font-weight="700" fill="#55504D" text-anchor="middle">7.138</text>
<text x="536.75" y="696.65" font-size="10.8" font-weight="700" fill="#55504D" text-anchor="middle">7.375</text>
<text x="578.25" y="696.65" font-size="10.8" font-weight="700" fill="#55504D" text-anchor="middle">7.568</text>
<text x="619.75" y="696.65" font-size="10.8" font-weight="700" fill="#55504D" text-anchor="middle">7.543</text>
<text x="661.25" y="696.65" font-size="10.8" font-weight="700" fill="#55504D" text-anchor="middle">7.297</text>
<text x="702.75" y="696.65" font-size="10.8" font-weight="700" fill="#55504D" text-anchor="middle">7.397</text>
<line x1="43.0" y1="710.60" x2="73.75" y2="710.60" stroke="#F3C47C" stroke-width="2.6" stroke-linecap="round"/>
<circle cx="58.25" cy="710.60" r="3.3" fill="#F3C47C"/>
<text x="77.00" y="714.50" font-size="10.8" font-weight="700" fill="#55504D" textLength="21.50" lengthAdjust="spacingAndGlyphs">GKP</text>
<text x="163.25" y="714.50" font-size="10.8" font-weight="700" fill="#55504D" text-anchor="middle">6.965</text>
<text x="204.75" y="714.50" font-size="10.8" font-weight="700" fill="#55504D" text-anchor="middle">6.890</text>
<text x="246.25" y="714.50" font-size="10.8" font-weight="700" fill="#55504D" text-anchor="middle">6.947</text>
<text x="287.75" y="714.50" font-size="10.8" font-weight="700" fill="#55504D" text-anchor="middle">7.688</text>
<text x="329.25" y="714.50" font-size="10.8" font-weight="700" fill="#55504D" text-anchor="middle">6.528</text>
<text x="370.75" y="714.50" font-size="10.8" font-weight="700" fill="#55504D" text-anchor="middle">5.284</text>
<text x="412.25" y="714.50" font-size="10.8" font-weight="700" fill="#55504D" text-anchor="middle">5.756</text>
<text x="453.75" y="714.50" font-size="10.8" font-weight="700" fill="#55504D" text-anchor="middle">6.448</text>
<text x="495.25" y="714.50" font-size="10.8" font-weight="700" fill="#55504D" text-anchor="middle">6.774</text>
<text x="536.75" y="714.50" font-size="10.8" font-weight="700" fill="#55504D" text-anchor="middle">6.511</text>
<text x="578.25" y="714.50" font-size="10.8" font-weight="700" fill="#55504D" text-anchor="middle">6.591</text>
<text x="619.75" y="714.50" font-size="10.8" font-weight="700" fill="#55504D" text-anchor="middle">6.627</text>
<text x="661.25" y="714.50" font-size="10.8" font-weight="700" fill="#55504D" text-anchor="middle">6.444</text>
<text x="702.75" y="714.50" font-size="10.8" font-weight="700" fill="#55504D" text-anchor="middle">6.589</text>
<line x1="43.0" y1="728.35" x2="73.75" y2="728.35" stroke="#FBF2A0" stroke-width="2.6" stroke-linecap="round"/>
<circle cx="58.25" cy="728.35" r="3.3" fill="#FBF2A0"/>
<text x="77.00" y="732.25" font-size="10.8" font-weight="700" fill="#55504D" textLength="61.00" lengthAdjust="spacingAndGlyphs">Luar Kualitas</text>
<text x="163.25" y="732.25" font-size="10.8" font-weight="700" fill="#55504D" text-anchor="middle">6.721</text>
<text x="204.75" y="732.25" font-size="10.8" font-weight="700" fill="#55504D" text-anchor="middle">7.059</text>
<text x="246.25" y="732.25" font-size="10.8" font-weight="700" fill="#55504D" text-anchor="middle">6.849</text>
<text x="287.75" y="732.25" font-size="10.8" font-weight="700" fill="#55504D" text-anchor="middle">7.381</text>
<text x="329.25" y="732.25" font-size="10.8" font-weight="700" fill="#55504D" text-anchor="middle">6.524</text>
<text x="370.75" y="732.25" font-size="10.8" font-weight="700" fill="#55504D" text-anchor="middle">5.116</text>
<text x="412.25" y="732.25" font-size="10.8" font-weight="700" fill="#55504D" text-anchor="middle">5.229</text>
<text x="453.75" y="732.25" font-size="10.8" font-weight="700" fill="#55504D" text-anchor="middle">5.991</text>
<text x="495.25" y="732.25" font-size="10.8" font-weight="700" fill="#55504D" text-anchor="middle">6.468</text>
<text x="536.75" y="732.25" font-size="10.8" font-weight="700" fill="#55504D" text-anchor="middle">6.201</text>
<text x="578.25" y="732.25" font-size="10.8" font-weight="700" fill="#55504D" text-anchor="middle">6.280</text>
<text x="619.75" y="732.25" font-size="10.8" font-weight="700" fill="#55504D" text-anchor="middle">6.411</text>
<text x="661.25" y="732.25" font-size="10.8" font-weight="700" fill="#55504D" text-anchor="middle">6.140</text>
<text x="702.75" y="732.25" font-size="10.8" font-weight="700" fill="#55504D" text-anchor="middle">5.885</text>
<polyline fill="none" stroke="#DF7A39" stroke-width="2.7" stroke-linejoin="round" stroke-linecap="round" points="163.2,559.8 204.8,547.4 246.2,543.9 287.8,522.6 329.2,556.3 370.8,607.3 412.2,609.5 453.8,590.0 495.2,582.0 536.8,574.4 578.2,568.2 619.8,569.0 661.2,576.9 702.8,573.7"/>
<circle cx="163.2" cy="559.8" r="3.7" fill="#DF7A39"/>
<circle cx="204.8" cy="547.4" r="3.7" fill="#DF7A39"/>
<circle cx="246.2" cy="543.9" r="3.7" fill="#DF7A39"/>
<circle cx="287.8" cy="522.6" r="3.7" fill="#DF7A39"/>
<circle cx="329.2" cy="556.3" r="3.7" fill="#DF7A39"/>
<circle cx="370.8" cy="607.3" r="3.7" fill="#DF7A39"/>
<circle cx="412.2" cy="609.5" r="3.7" fill="#DF7A39"/>
<circle cx="453.8" cy="590.0" r="3.7" fill="#DF7A39"/>
<circle cx="495.2" cy="582.0" r="3.7" fill="#DF7A39"/>
<circle cx="536.8" cy="574.4" r="3.7" fill="#DF7A39"/>
<circle cx="578.2" cy="568.2" r="3.7" fill="#DF7A39"/>
<circle cx="619.8" cy="569.0" r="3.7" fill="#DF7A39"/>
<circle cx="661.2" cy="576.9" r="3.7" fill="#DF7A39"/>
<circle cx="702.8" cy="573.7" r="3.7" fill="#DF7A39"/>
<polyline fill="none" stroke="#F3C47C" stroke-width="2.7" stroke-linejoin="round" stroke-linecap="round" points="163.2,587.5 204.8,589.9 246.2,588.1 287.8,564.3 329.2,601.5 370.8,641.4 412.2,626.3 453.8,604.1 495.2,593.6 536.8,602.1 578.2,599.5 619.8,598.4 661.2,604.2 702.8,599.6"/>
<circle cx="163.2" cy="587.5" r="3.7" fill="#F3C47C"/>
<circle cx="204.8" cy="589.9" r="3.7" fill="#F3C47C"/>
<circle cx="246.2" cy="588.1" r="3.7" fill="#F3C47C"/>
<circle cx="287.8" cy="564.3" r="3.7" fill="#F3C47C"/>
<circle cx="329.2" cy="601.5" r="3.7" fill="#F3C47C"/>
<circle cx="370.8" cy="641.4" r="3.7" fill="#F3C47C"/>
<circle cx="412.2" cy="626.3" r="3.7" fill="#F3C47C"/>
<circle cx="453.8" cy="604.1" r="3.7" fill="#F3C47C"/>
<circle cx="495.2" cy="593.6" r="3.7" fill="#F3C47C"/>
<circle cx="536.8" cy="602.1" r="3.7" fill="#F3C47C"/>
<circle cx="578.2" cy="599.5" r="3.7" fill="#F3C47C"/>
<circle cx="619.8" cy="598.4" r="3.7" fill="#F3C47C"/>
<circle cx="661.2" cy="604.2" r="3.7" fill="#F3C47C"/>
<circle cx="702.8" cy="599.6" r="3.7" fill="#F3C47C"/>
<polyline fill="none" stroke="#FBF2A0" stroke-width="2.7" stroke-linejoin="round" stroke-linecap="round" points="163.2,595.3 204.8,584.5 246.2,591.2 287.8,574.2 329.2,601.7 370.8,646.8 412.2,643.2 453.8,618.7 495.2,603.5 536.8,612.0 578.2,609.5 619.8,605.3 661.2,614.0 702.8,622.1"/>
<circle cx="163.2" cy="595.3" r="3.7" fill="#FBF2A0"/>
<circle cx="204.8" cy="584.5" r="3.7" fill="#FBF2A0"/>
<circle cx="246.2" cy="591.2" r="3.7" fill="#FBF2A0"/>
<circle cx="287.8" cy="574.2" r="3.7" fill="#FBF2A0"/>
<circle cx="329.2" cy="601.7" r="3.7" fill="#FBF2A0"/>
<circle cx="370.8" cy="646.8" r="3.7" fill="#FBF2A0"/>
<circle cx="412.2" cy="643.2" r="3.7" fill="#FBF2A0"/>
<circle cx="453.8" cy="618.7" r="3.7" fill="#FBF2A0"/>
<circle cx="495.2" cy="603.5" r="3.7" fill="#FBF2A0"/>
<circle cx="536.8" cy="612.0" r="3.7" fill="#FBF2A0"/>
<circle cx="578.2" cy="609.5" r="3.7" fill="#FBF2A0"/>
<circle cx="619.8" cy="605.3" r="3.7" fill="#FBF2A0"/>
<circle cx="661.2" cy="614.0" r="3.7" fill="#FBF2A0"/>
<circle cx="702.8" cy="622.1" r="3.7" fill="#FBF2A0"/>
<rect x="154" y="479.2" width="338.5" height="31.0" rx="14" fill="#D7654B"/>
<text x="166.00" y="499.60" font-size="14.2" font-weight="400" fill="#2A1712" textLength="315.50" lengthAdjust="spacingAndGlyphs" stroke="#2A1712" stroke-width="0.25">Perkembangan Harga Gabah di Tingkat Petani</text>
<path d="M47.5 999.3 V749.5 H723.5 V999.3 Z" fill="none" stroke="#E4D8CC" stroke-width="1"/>
<line x1="140.3" y1="759.25" x2="723.5" y2="759.25" stroke="#E2D9D0" stroke-width="1"/>
<text x="128.80" y="762.86" font-size="10.175" font-weight="700" fill="#55504D" text-anchor="end">15.000</text>
<line x1="140.3" y1="788.50" x2="723.5" y2="788.50" stroke="#E2D9D0" stroke-width="1"/>
<text x="128.80" y="792.11" font-size="10.175" font-weight="700" fill="#55504D" text-anchor="end">14.000</text>
<line x1="140.3" y1="817.75" x2="723.5" y2="817.75" stroke="#E2D9D0" stroke-width="1"/>
<text x="128.80" y="821.36" font-size="10.175" font-weight="700" fill="#55504D" text-anchor="end">13.000</text>
<line x1="140.3" y1="847.00" x2="723.5" y2="847.00" stroke="#E2D9D0" stroke-width="1"/>
<text x="128.80" y="850.61" font-size="10.175" font-weight="700" fill="#55504D" text-anchor="end">12.000</text>
<line x1="140.3" y1="876.25" x2="723.5" y2="876.25" stroke="#E2D9D0" stroke-width="1"/>
<text x="128.80" y="879.86" font-size="10.175" font-weight="700" fill="#55504D" text-anchor="end">11.000</text>
<line x1="140.3" y1="905.50" x2="723.5" y2="905.50" stroke="#E2D9D0" stroke-width="1"/>
<text x="128.80" y="909.11" font-size="10.175" font-weight="700" fill="#55504D" text-anchor="end">10.000</text>
<line x1="140.3" y1="934.75" x2="723.5" y2="934.75" stroke="#E2D9D0" stroke-width="1"/>
<text x="128.80" y="938.36" font-size="10.175" font-weight="700" fill="#55504D" text-anchor="end">9.000</text>
<text transform="translate(79,830.6) rotate(-90)" text-anchor="middle" font-size="11.6" font-weight="700" fill="#55504D">Rupiah</text>
<line x1="63.75" y1="950.20" x2="723.5" y2="950.20" stroke="#E2D9D0" stroke-width="1"/>
<line x1="63.75" y1="966.70" x2="723.5" y2="966.70" stroke="#E2D9D0" stroke-width="1"/>
<line x1="63.75" y1="983.20" x2="723.5" y2="983.20" stroke="#E2D9D0" stroke-width="1"/>
<line x1="63.75" y1="999.30" x2="723.5" y2="999.30" stroke="#E2D9D0" stroke-width="1"/>
<line x1="63.75" y1="950.20" x2="63.75" y2="999.30" stroke="#E2D9D0" stroke-width="1"/>
<line x1="140.30" y1="934.90" x2="140.30" y2="999.30" stroke="#E2D9D0" stroke-width="1"/>
<line x1="181.96" y1="934.90" x2="181.96" y2="999.30" stroke="#E2D9D0" stroke-width="1"/>
<line x1="223.61" y1="934.90" x2="223.61" y2="999.30" stroke="#E2D9D0" stroke-width="1"/>
<line x1="265.27" y1="934.90" x2="265.27" y2="999.30" stroke="#E2D9D0" stroke-width="1"/>
<line x1="306.93" y1="934.90" x2="306.93" y2="999.30" stroke="#E2D9D0" stroke-width="1"/>
<line x1="348.59" y1="934.90" x2="348.59" y2="999.30" stroke="#E2D9D0" stroke-width="1"/>
<line x1="390.24" y1="934.90" x2="390.24" y2="999.30" stroke="#E2D9D0" stroke-width="1"/>
<line x1="431.90" y1="934.90" x2="431.90" y2="999.30" stroke="#E2D9D0" stroke-width="1"/>
<line x1="473.56" y1="934.90" x2="473.56" y2="999.30" stroke="#E2D9D0" stroke-width="1"/>
<line x1="515.21" y1="934.90" x2="515.21" y2="999.30" stroke="#E2D9D0" stroke-width="1"/>
<line x1="556.87" y1="934.90" x2="556.87" y2="999.30" stroke="#E2D9D0" stroke-width="1"/>
<line x1="598.53" y1="934.90" x2="598.53" y2="999.30" stroke="#E2D9D0" stroke-width="1"/>
<line x1="640.19" y1="934.90" x2="640.19" y2="999.30" stroke="#E2D9D0" stroke-width="1"/>
<line x1="681.84" y1="934.90" x2="681.84" y2="999.30" stroke="#E2D9D0" stroke-width="1"/>
<line x1="723.50" y1="934.90" x2="723.50" y2="999.30" stroke="#E2D9D0" stroke-width="1"/>
<text x="161.13" y="946.45" font-size="9.805" font-weight="700" fill="#55504D" text-anchor="middle">Nov '23</text>
<text x="202.79" y="946.45" font-size="9.805" font-weight="700" fill="#55504D" text-anchor="middle">Des '23</text>
<text x="244.44" y="946.45" font-size="9.805" font-weight="700" fill="#55504D" text-anchor="middle">Jan '24</text>
<text x="286.10" y="946.45" font-size="9.805" font-weight="700" fill="#55504D" text-anchor="middle">Feb '24</text>
<text x="327.76" y="946.45" font-size="9.805" font-weight="700" fill="#55504D" text-anchor="middle">Mar '24</text>
<text x="369.41" y="946.45" font-size="9.805" font-weight="700" fill="#55504D" text-anchor="middle">Apr '24</text>
<text x="411.07" y="946.45" font-size="9.805" font-weight="700" fill="#55504D" text-anchor="middle">Mei '24</text>
<text x="452.73" y="946.45" font-size="9.805" font-weight="700" fill="#55504D" text-anchor="middle">Jun '24</text>
<text x="494.39" y="946.45" font-size="9.805" font-weight="700" fill="#55504D" text-anchor="middle">Jul '24</text>
<text x="536.04" y="946.45" font-size="9.805" font-weight="700" fill="#55504D" text-anchor="middle">Ags '24</text>
<text x="577.70" y="946.45" font-size="9.805" font-weight="700" fill="#55504D" text-anchor="middle">Sep'24</text>
<text x="619.36" y="946.45" font-size="9.805" font-weight="700" fill="#55504D" text-anchor="middle">Okt'24</text>
<text x="661.01" y="946.45" font-size="9.805" font-weight="700" fill="#55504D" text-anchor="middle">Nov'24</text>
<text x="702.67" y="946.45" font-size="9.805" font-weight="700" fill="#55504D" text-anchor="middle">Des'24</text>
<line x1="66.75" y1="958.45" x2="95.5" y2="958.45" stroke="#DF7A39" stroke-width="2.6" stroke-linecap="round"/>
<circle cx="81.25" cy="958.45" r="3.3" fill="#DF7A39"/>
<text x="98.05" y="962.06" font-size="9.990000000000002" font-weight="700" fill="#55504D" textLength="38.50" lengthAdjust="spacingAndGlyphs">Premium</text>
<text x="161.13" y="962.06" font-size="9.990000000000002" font-weight="700" fill="#55504D" text-anchor="middle">12.748</text>
<text x="202.79" y="962.06" font-size="9.990000000000002" font-weight="700" fill="#55504D" text-anchor="middle">12.751</text>
<text x="244.44" y="962.06" font-size="9.990000000000002" font-weight="700" fill="#55504D" text-anchor="middle">12.965</text>
<text x="286.10" y="962.06" font-size="9.990000000000002" font-weight="700" fill="#55504D" text-anchor="middle">14.442</text>
<text x="327.76" y="962.06" font-size="9.990000000000002" font-weight="700" fill="#55504D" text-anchor="middle">13.680</text>
<text x="369.41" y="962.06" font-size="9.990000000000002" font-weight="700" fill="#55504D" text-anchor="middle">12.724</text>
<text x="411.07" y="962.06" font-size="9.990000000000002" font-weight="700" fill="#55504D" text-anchor="middle">12.308</text>
<text x="452.73" y="962.06" font-size="9.990000000000002" font-weight="700" fill="#55504D" text-anchor="middle">12.627</text>
<text x="494.39" y="962.06" font-size="9.990000000000002" font-weight="700" fill="#55504D" text-anchor="middle">13.011</text>
<text x="536.04" y="962.06" font-size="9.990000000000002" font-weight="700" fill="#55504D" text-anchor="middle">12.856</text>
<text x="577.70" y="962.06" font-size="9.990000000000002" font-weight="700" fill="#55504D" text-anchor="middle">12.851</text>
<text x="619.36" y="962.06" font-size="9.990000000000002" font-weight="700" fill="#55504D" text-anchor="middle">12.934</text>
<text x="661.01" y="962.06" font-size="9.990000000000002" font-weight="700" fill="#55504D" text-anchor="middle">12.727</text>
<text x="702.67" y="962.06" font-size="9.990000000000002" font-weight="700" fill="#55504D" text-anchor="middle">12.935</text>
<line x1="66.75" y1="974.95" x2="95.5" y2="974.95" stroke="#F3C47C" stroke-width="2.6" stroke-linecap="round"/>
<circle cx="81.25" cy="974.95" r="3.3" fill="#F3C47C"/>
<text x="98.05" y="978.56" font-size="9.990000000000002" font-weight="700" fill="#55504D" textLength="35.50" lengthAdjust="spacingAndGlyphs">Medium</text>
<text x="161.13" y="978.56" font-size="9.990000000000002" font-weight="700" fill="#55504D" text-anchor="middle">12.503</text>
<text x="202.79" y="978.56" font-size="9.990000000000002" font-weight="700" fill="#55504D" text-anchor="middle">12.557</text>
<text x="244.44" y="978.56" font-size="9.990000000000002" font-weight="700" fill="#55504D" text-anchor="middle">12.546</text>
<text x="286.10" y="978.56" font-size="9.990000000000002" font-weight="700" fill="#55504D" text-anchor="middle">14.061</text>
<text x="327.76" y="978.56" font-size="9.990000000000002" font-weight="700" fill="#55504D" text-anchor="middle">13.431</text>
<text x="369.41" y="978.56" font-size="9.990000000000002" font-weight="700" fill="#55504D" text-anchor="middle">12.024</text>
<text x="411.07" y="978.56" font-size="9.990000000000002" font-weight="700" fill="#55504D" text-anchor="middle">11.479</text>
<text x="452.73" y="978.56" font-size="9.990000000000002" font-weight="700" fill="#55504D" text-anchor="middle">11.983</text>
<text x="494.39" y="978.56" font-size="9.990000000000002" font-weight="700" fill="#55504D" text-anchor="middle">12.232</text>
<text x="536.04" y="978.56" font-size="9.990000000000002" font-weight="700" fill="#55504D" text-anchor="middle">12.121</text>
<text x="577.70" y="978.56" font-size="9.990000000000002" font-weight="700" fill="#55504D" text-anchor="middle">12.223</text>
<text x="619.36" y="978.56" font-size="9.990000000000002" font-weight="700" fill="#55504D" text-anchor="middle">12.248</text>
<text x="661.01" y="978.56" font-size="9.990000000000002" font-weight="700" fill="#55504D" text-anchor="middle">11.936</text>
<text x="702.67" y="978.56" font-size="9.990000000000002" font-weight="700" fill="#55504D" text-anchor="middle">12.036</text>
<line x1="66.75" y1="991.25" x2="95.5" y2="991.25" stroke="#FBF2A0" stroke-width="2.6" stroke-linecap="round"/>
<circle cx="81.25" cy="991.25" r="3.3" fill="#FBF2A0"/>
<text x="98.05" y="994.86" font-size="9.990000000000002" font-weight="700" fill="#55504D" textLength="32.50" lengthAdjust="spacingAndGlyphs">Rendah</text>
<text x="161.13" y="994.86" font-size="9.990000000000002" font-weight="700" fill="#55504D" text-anchor="middle">11.824</text>
<text x="202.79" y="994.86" font-size="9.990000000000002" font-weight="700" fill="#55504D" text-anchor="middle">11.819</text>
<text x="244.44" y="994.86" font-size="9.990000000000002" font-weight="700" fill="#55504D" text-anchor="middle">12.630</text>
<text x="286.10" y="994.86" font-size="9.990000000000002" font-weight="700" fill="#55504D" text-anchor="middle">14.063</text>
<text x="327.76" y="994.86" font-size="9.990000000000002" font-weight="700" fill="#55504D" text-anchor="middle">13.535</text>
<text x="369.41" y="994.86" font-size="9.990000000000002" font-weight="700" fill="#55504D" text-anchor="middle">12.194</text>
<text x="411.07" y="994.86" font-size="9.990000000000002" font-weight="700" fill="#55504D" text-anchor="middle">11.627</text>
<text x="452.73" y="994.86" font-size="9.990000000000002" font-weight="700" fill="#55504D" text-anchor="middle">12.346</text>
<text x="494.39" y="994.86" font-size="9.990000000000002" font-weight="700" fill="#55504D" text-anchor="middle">12.457</text>
<text x="536.04" y="994.86" font-size="9.990000000000002" font-weight="700" fill="#55504D" text-anchor="middle">12.570</text>
<text x="577.70" y="994.86" font-size="9.990000000000002" font-weight="700" fill="#55504D" text-anchor="middle">12.423</text>
<text x="619.36" y="994.86" font-size="9.990000000000002" font-weight="700" fill="#55504D" text-anchor="middle">12.325</text>
<text x="661.01" y="994.86" font-size="9.990000000000002" font-weight="700" fill="#55504D" text-anchor="middle">12.239</text>
<text x="702.67" y="994.86" font-size="9.990000000000002" font-weight="700" fill="#55504D" text-anchor="middle">12.367</text>
<polyline fill="none" stroke="#DF7A39" stroke-width="2.7" stroke-linejoin="round" stroke-linecap="round" points="161.1,825.1 202.8,825.0 244.4,818.8 286.1,775.6 327.8,797.9 369.4,825.8 411.1,838.0 452.7,828.7 494.4,817.4 536.0,822.0 577.7,822.1 619.4,819.7 661.0,825.7 702.7,819.7"/>
<circle cx="161.1" cy="825.1" r="3.7" fill="#DF7A39"/>
<circle cx="202.8" cy="825.0" r="3.7" fill="#DF7A39"/>
<circle cx="244.4" cy="818.8" r="3.7" fill="#DF7A39"/>
<circle cx="286.1" cy="775.6" r="3.7" fill="#DF7A39"/>
<circle cx="327.8" cy="797.9" r="3.7" fill="#DF7A39"/>
<circle cx="369.4" cy="825.8" r="3.7" fill="#DF7A39"/>
<circle cx="411.1" cy="838.0" r="3.7" fill="#DF7A39"/>
<circle cx="452.7" cy="828.7" r="3.7" fill="#DF7A39"/>
<circle cx="494.4" cy="817.4" r="3.7" fill="#DF7A39"/>
<circle cx="536.0" cy="822.0" r="3.7" fill="#DF7A39"/>
<circle cx="577.7" cy="822.1" r="3.7" fill="#DF7A39"/>
<circle cx="619.4" cy="819.7" r="3.7" fill="#DF7A39"/>
<circle cx="661.0" cy="825.7" r="3.7" fill="#DF7A39"/>
<circle cx="702.7" cy="819.7" r="3.7" fill="#DF7A39"/>
<polyline fill="none" stroke="#F3C47C" stroke-width="2.7" stroke-linejoin="round" stroke-linecap="round" points="161.1,832.3 202.8,830.7 244.4,831.0 286.1,786.7 327.8,805.1 369.4,846.3 411.1,862.2 452.7,847.5 494.4,840.2 536.0,843.5 577.7,840.5 619.4,839.7 661.0,848.9 702.7,845.9"/>
<circle cx="161.1" cy="832.3" r="3.7" fill="#F3C47C"/>
<circle cx="202.8" cy="830.7" r="3.7" fill="#F3C47C"/>
<circle cx="244.4" cy="831.0" r="3.7" fill="#F3C47C"/>
<circle cx="286.1" cy="786.7" r="3.7" fill="#F3C47C"/>
<circle cx="327.8" cy="805.1" r="3.7" fill="#F3C47C"/>
<circle cx="369.4" cy="846.3" r="3.7" fill="#F3C47C"/>
<circle cx="411.1" cy="862.2" r="3.7" fill="#F3C47C"/>
<circle cx="452.7" cy="847.5" r="3.7" fill="#F3C47C"/>
<circle cx="494.4" cy="840.2" r="3.7" fill="#F3C47C"/>
<circle cx="536.0" cy="843.5" r="3.7" fill="#F3C47C"/>
<circle cx="577.7" cy="840.5" r="3.7" fill="#F3C47C"/>
<circle cx="619.4" cy="839.7" r="3.7" fill="#F3C47C"/>
<circle cx="661.0" cy="848.9" r="3.7" fill="#F3C47C"/>
<circle cx="702.7" cy="845.9" r="3.7" fill="#F3C47C"/>
<polyline fill="none" stroke="#FBF2A0" stroke-width="2.7" stroke-linejoin="round" stroke-linecap="round" points="161.1,852.1 202.8,852.3 244.4,828.6 286.1,786.7 327.8,802.1 369.4,841.3 411.1,857.9 452.7,836.9 494.4,833.6 536.0,830.3 577.7,834.6 619.4,837.5 661.0,840.0 702.7,836.3"/>
<circle cx="161.1" cy="852.1" r="3.7" fill="#FBF2A0"/>
<circle cx="202.8" cy="852.3" r="3.7" fill="#FBF2A0"/>
<circle cx="244.4" cy="828.6" r="3.7" fill="#FBF2A0"/>
<circle cx="286.1" cy="786.7" r="3.7" fill="#FBF2A0"/>
<circle cx="327.8" cy="802.1" r="3.7" fill="#FBF2A0"/>
<circle cx="369.4" cy="841.3" r="3.7" fill="#FBF2A0"/>
<circle cx="411.1" cy="857.9" r="3.7" fill="#FBF2A0"/>
<circle cx="452.7" cy="836.9" r="3.7" fill="#FBF2A0"/>
<circle cx="494.4" cy="833.6" r="3.7" fill="#FBF2A0"/>
<circle cx="536.0" cy="830.3" r="3.7" fill="#FBF2A0"/>
<circle cx="577.7" cy="834.6" r="3.7" fill="#FBF2A0"/>
<circle cx="619.4" cy="837.5" r="3.7" fill="#FBF2A0"/>
<circle cx="661.0" cy="840.0" r="3.7" fill="#FBF2A0"/>
<circle cx="702.7" cy="836.3" r="3.7" fill="#FBF2A0"/>
<rect x="143.5" y="742" width="325.5" height="31.200000000000045" rx="14" fill="#D7654B"/>
<text x="155.40" y="761.80" font-size="14.2" font-weight="400" fill="#2A1712" textLength="302.10" lengthAdjust="spacingAndGlyphs" stroke="#2A1712" stroke-width="0.25">Perkembangan Harga Beras di Penggilingan</text>
<rect x="0" y="1021" width="768" height="65" fill="#D6634B"/>
<path d="M548 1039 C560 1034 573 1038 573 1046 C573 1051 570 1055 566 1057" fill="none" stroke="#F39A3E" stroke-width="1.3"/>
<path d="M532 1050 C526 1056 528 1064 537 1068 C543 1070 550 1067 556 1063" fill="none" stroke="#3A8FCB" stroke-width="1.3"/>
<polygon points="535.8,1037.0 543.1,1037.0 541.0,1048.0 533.7,1048.0" fill="#1F8FD3"/>
<polygon points="542.3,1048.5 549.5,1048.5 547.7,1059.0 540.5,1059.0" fill="#1F8FD3"/>
<polygon points="553.5,1036.5 561.8,1036.5 559.7,1047.5 551.4,1047.5" fill="#F6933B"/>
<polygon points="559.9,1048.0 566.5,1048.0 564.3,1058.0 557.7,1058.0" fill="#F6933B"/>
<polygon points="549.8,1050.6 557.0,1050.6 555.0,1061.0 547.8,1061.0" fill="#6CBF46"/>
<polygon points="539.1,1062.0 546.3,1062.0 543.5,1072.4 536.3,1072.4" fill="#6CBF46"/>
<text x="580.00" y="1050.00" font-size="15.5" font-weight="700" fill="#fff" textLength="161.70" lengthAdjust="spacingAndGlyphs" font-style="italic">BADAN PUSAT STATISTIK</text>
<text x="576.70" y="1067.70" font-size="17" font-weight="700" fill="#fff" textLength="161.60" lengthAdjust="spacingAndGlyphs" font-style="italic">PROVINSI JAWA TIMUR</text>
</svg>
</body>
</html>
